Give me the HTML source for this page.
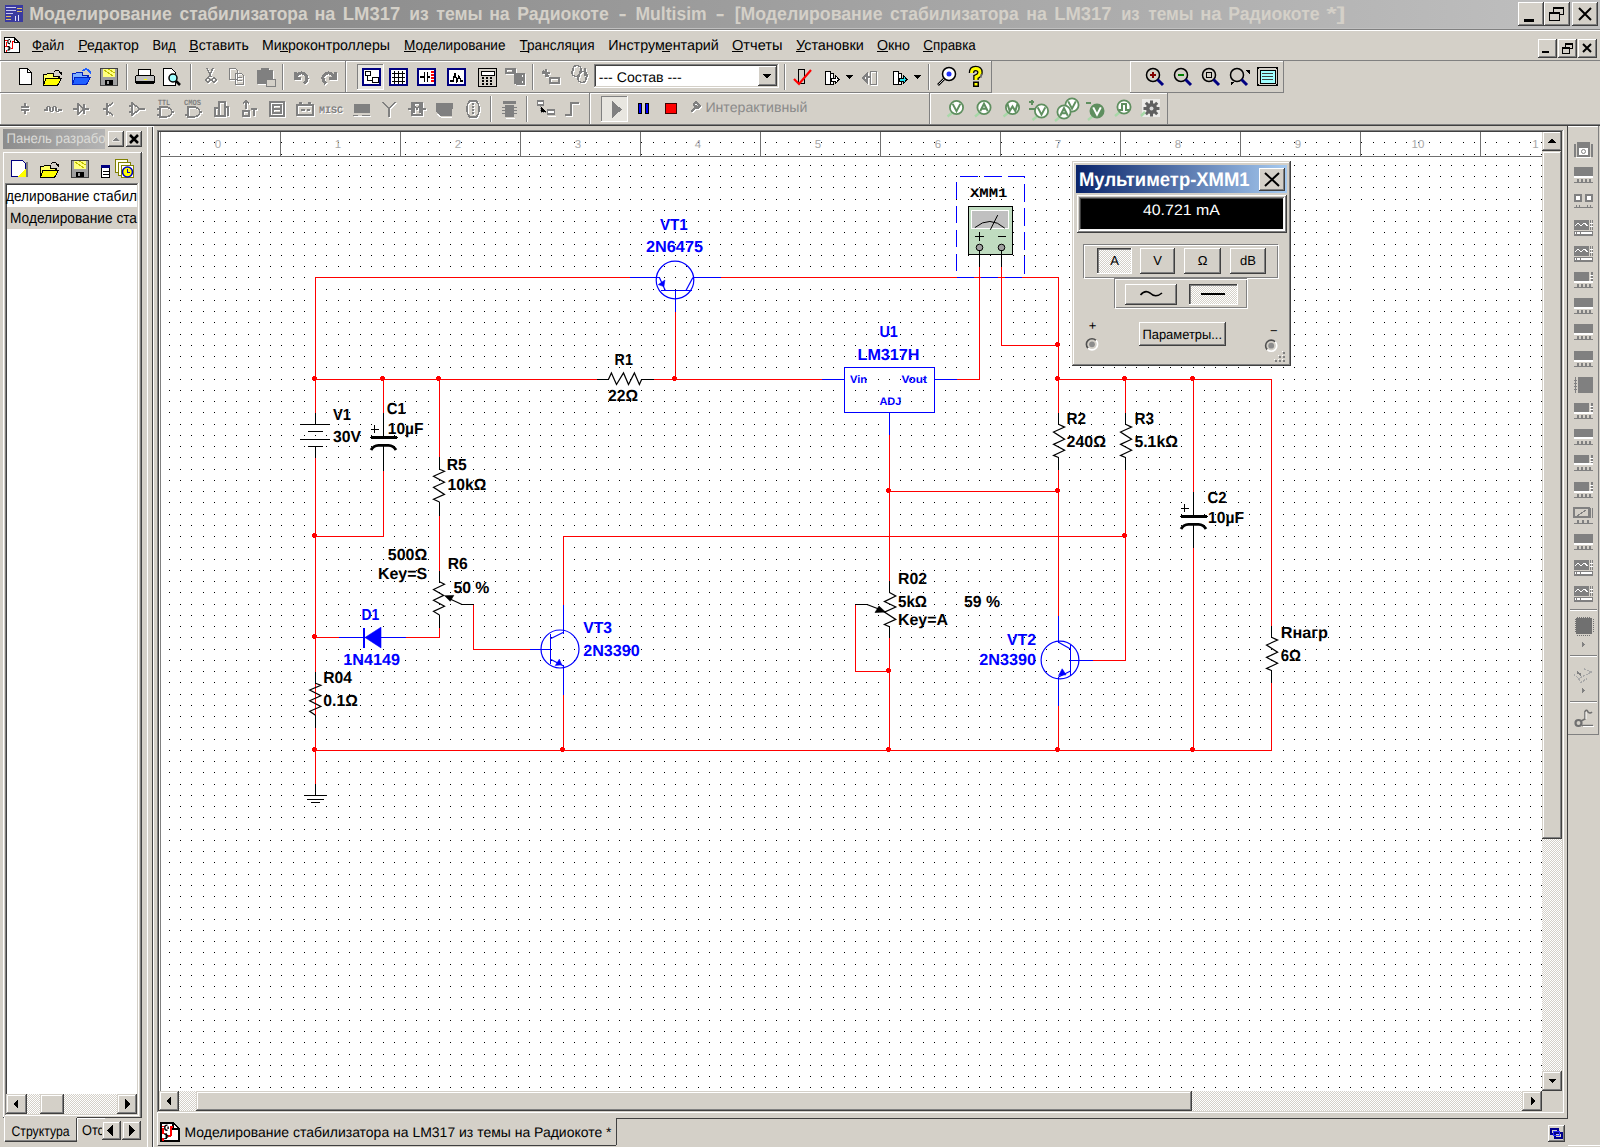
<!DOCTYPE html>
<html><head><meta charset="utf-8"><title>Multisim</title>
<style>html,body{margin:0;padding:0;width:1600px;height:1147px;overflow:hidden;background:#d4d0c8}svg{display:block}text{white-space:pre;text-rendering:geometricPrecision}</style>
</head><body>
<svg width="1600" height="1147" viewBox="0 0 1600 1147" shape-rendering="crispEdges">
<defs>
<pattern id="grid" x="169" y="142" width="45" height="45" patternUnits="userSpaceOnUse">
<rect x="0" y="0" width="1" height="1" fill="#000"/><rect x="0" y="12" width="1" height="1" fill="#000"/><rect x="0" y="23" width="1" height="1" fill="#000"/><rect x="0" y="34" width="1" height="1" fill="#000"/><rect x="11" y="0" width="1" height="1" fill="#000"/><rect x="11" y="12" width="1" height="1" fill="#000"/><rect x="11" y="23" width="1" height="1" fill="#000"/><rect x="11" y="34" width="1" height="1" fill="#000"/><rect x="22" y="0" width="1" height="1" fill="#000"/><rect x="22" y="12" width="1" height="1" fill="#000"/><rect x="22" y="23" width="1" height="1" fill="#000"/><rect x="22" y="34" width="1" height="1" fill="#000"/><rect x="34" y="0" width="1" height="1" fill="#000"/><rect x="34" y="12" width="1" height="1" fill="#000"/><rect x="34" y="23" width="1" height="1" fill="#000"/><rect x="34" y="34" width="1" height="1" fill="#000"/>
</pattern>
<pattern id="chk" x="0" y="0" width="2" height="2" patternUnits="userSpaceOnUse">
<rect width="2" height="2" fill="#d4d0c8"/><rect width="1" height="1" fill="#ffffff"/><rect x="1" y="1" width="1" height="1" fill="#ffffff"/>
</pattern>
<linearGradient id="tgrad" x1="0" x2="1" y1="0" y2="0"><stop offset="0" stop-color="#808080"/><stop offset="1" stop-color="#c0c0c0"/></linearGradient>
<linearGradient id="pgrad" x1="0" x2="1" y1="0" y2="0"><stop offset="0" stop-color="#8c8c8c"/><stop offset="1" stop-color="#b4b4b4"/></linearGradient>
<linearGradient id="agrad" x1="0" x2="1" y1="0" y2="0"><stop offset="0" stop-color="#0a246a"/><stop offset="1" stop-color="#a6caf0"/></linearGradient>
</defs>
<rect x="0" y="0" width="1600" height="1147" fill="#d4d0c8" />
<rect x="0" y="0" width="1600" height="28" fill="url(#tgrad)" />
<g><rect x="5" y="5" width="18" height="17" fill="#3a3aa0"/><rect x="6" y="7" width="10" height="1" fill="#c8c8f0"/><rect x="6" y="10" width="10" height="1" fill="#c8c8f0"/><rect x="6" y="13" width="7" height="1" fill="#c8c8f0"/><rect x="6" y="16" width="5" height="1" fill="#e0c060"/><rect x="6" y="19" width="5" height="1" fill="#e0c060"/><rect x="17" y="8" width="5" height="1" fill="#e0c060"/><rect x="17" y="11" width="5" height="1" fill="#e0c060"/><rect x="15" y="16" width="1" height="5" fill="#e0e0ff"/><rect x="18" y="15" width="1" height="6" fill="#e0e0ff"/></g>
<text x="29.2" y="20.3" font-family='"Liberation Sans", sans-serif' font-size="18.8" font-weight="bold" fill="#d4d0c8" text-anchor="start" textLength="142.7" lengthAdjust="spacingAndGlyphs" >Моделирование</text>
<text x="179.5" y="20.3" font-family='"Liberation Sans", sans-serif' font-size="18.8" font-weight="bold" fill="#d4d0c8" text-anchor="start" textLength="128.1" lengthAdjust="spacingAndGlyphs" >стабилизатора</text>
<text x="314.4" y="20.3" font-family='"Liberation Sans", sans-serif' font-size="18.8" font-weight="bold" fill="#d4d0c8" text-anchor="start" textLength="20.9" lengthAdjust="spacingAndGlyphs" >на</text>
<text x="342.8" y="20.3" font-family='"Liberation Sans", sans-serif' font-size="18.8" font-weight="bold" fill="#d4d0c8" text-anchor="start" textLength="57.5" lengthAdjust="spacingAndGlyphs" >LM317</text>
<text x="409.3" y="20.3" font-family='"Liberation Sans", sans-serif' font-size="18.8" font-weight="bold" fill="#d4d0c8" text-anchor="start" textLength="19.4" lengthAdjust="spacingAndGlyphs" >из</text>
<text x="436.3" y="20.3" font-family='"Liberation Sans", sans-serif' font-size="18.8" font-weight="bold" fill="#d4d0c8" text-anchor="start" textLength="46.4" lengthAdjust="spacingAndGlyphs" >темы</text>
<text x="489.2" y="20.3" font-family='"Liberation Sans", sans-serif' font-size="18.8" font-weight="bold" fill="#d4d0c8" text-anchor="start" textLength="20.5" lengthAdjust="spacingAndGlyphs" >на</text>
<text x="517.3" y="20.3" font-family='"Liberation Sans", sans-serif' font-size="18.8" font-weight="bold" fill="#d4d0c8" text-anchor="start" textLength="91.4" lengthAdjust="spacingAndGlyphs" >Радиокоте</text>
<text x="618.6" y="20.3" font-family='"Liberation Sans", sans-serif' font-size="18.8" font-weight="bold" fill="#d4d0c8" text-anchor="start" textLength="8.1" lengthAdjust="spacingAndGlyphs" >-</text>
<text x="635.5" y="20.3" font-family='"Liberation Sans", sans-serif' font-size="18.8" font-weight="bold" fill="#d4d0c8" text-anchor="start" textLength="71.1" lengthAdjust="spacingAndGlyphs" >Multisim</text>
<text x="715.4" y="20.3" font-family='"Liberation Sans", sans-serif' font-size="18.8" font-weight="bold" fill="#d4d0c8" text-anchor="start" textLength="9.2" lengthAdjust="spacingAndGlyphs" >-</text>
<text x="734.7" y="20.3" font-family='"Liberation Sans", sans-serif' font-size="18.8" font-weight="bold" fill="#d4d0c8" text-anchor="start" textLength="147.8" lengthAdjust="spacingAndGlyphs" >[Моделирование</text>
<text x="890.1" y="20.3" font-family='"Liberation Sans", sans-serif' font-size="18.8" font-weight="bold" fill="#d4d0c8" text-anchor="start" textLength="128.5" lengthAdjust="spacingAndGlyphs" >стабилизатора</text>
<text x="1026.2" y="20.3" font-family='"Liberation Sans", sans-serif' font-size="18.8" font-weight="bold" fill="#d4d0c8" text-anchor="start" textLength="20.6" lengthAdjust="spacingAndGlyphs" >на</text>
<text x="1054.2" y="20.3" font-family='"Liberation Sans", sans-serif' font-size="18.8" font-weight="bold" fill="#d4d0c8" text-anchor="start" textLength="57.4" lengthAdjust="spacingAndGlyphs" >LM317</text>
<text x="1121.2" y="20.3" font-family='"Liberation Sans", sans-serif' font-size="18.8" font-weight="bold" fill="#d4d0c8" text-anchor="start" textLength="18.4" lengthAdjust="spacingAndGlyphs" >из</text>
<text x="1148.2" y="20.3" font-family='"Liberation Sans", sans-serif' font-size="18.8" font-weight="bold" fill="#d4d0c8" text-anchor="start" textLength="45.4" lengthAdjust="spacingAndGlyphs" >темы</text>
<text x="1200.2" y="20.3" font-family='"Liberation Sans", sans-serif' font-size="18.8" font-weight="bold" fill="#d4d0c8" text-anchor="start" textLength="21.4" lengthAdjust="spacingAndGlyphs" >на</text>
<text x="1228.2" y="20.3" font-family='"Liberation Sans", sans-serif' font-size="18.8" font-weight="bold" fill="#d4d0c8" text-anchor="start" textLength="91.4" lengthAdjust="spacingAndGlyphs" >Радиокоте</text>
<text x="1326.2" y="20.3" font-family='"Liberation Sans", sans-serif' font-size="18.8" font-weight="bold" fill="#d4d0c8" text-anchor="start" textLength="19.4" lengthAdjust="spacingAndGlyphs" >*]</text>
<rect x="1518" y="2" width="26" height="24" fill="#d4d0c8" />
<rect x="1518" y="2" width="26" height="1" fill="#ffffff" />
<rect x="1518" y="2" width="1" height="24" fill="#ffffff" />
<rect x="1518" y="25" width="26" height="1" fill="#404040" />
<rect x="1543" y="2" width="1" height="24" fill="#404040" />
<rect x="1519" y="24" width="24" height="1" fill="#808080" />
<rect x="1542" y="3" width="1" height="22" fill="#808080" />
<rect x="1524" y="19" width="10" height="3" fill="#000000" />
<rect x="1544" y="2" width="26" height="24" fill="#d4d0c8" />
<rect x="1544" y="2" width="26" height="1" fill="#ffffff" />
<rect x="1544" y="2" width="1" height="24" fill="#ffffff" />
<rect x="1544" y="25" width="26" height="1" fill="#404040" />
<rect x="1569" y="2" width="1" height="24" fill="#404040" />
<rect x="1545" y="24" width="24" height="1" fill="#808080" />
<rect x="1568" y="3" width="1" height="22" fill="#808080" />
<rect x="1553.5" y="7.5" width="10" height="7" fill="none" stroke="#000"/>
<rect x="1553" y="7" width="11" height="2" fill="#000000" />
<rect x="1549.5" y="12.5" width="10" height="8" fill="#d4d0c8" stroke="#000"/>
<rect x="1549" y="12" width="11" height="2" fill="#000000" />
<rect x="1572" y="2" width="26" height="24" fill="#d4d0c8" />
<rect x="1572" y="2" width="26" height="1" fill="#ffffff" />
<rect x="1572" y="2" width="1" height="24" fill="#ffffff" />
<rect x="1572" y="25" width="26" height="1" fill="#404040" />
<rect x="1597" y="2" width="1" height="24" fill="#404040" />
<rect x="1573" y="24" width="24" height="1" fill="#808080" />
<rect x="1596" y="3" width="1" height="22" fill="#808080" />
<path d="M1579 8 L1591 20 M1591 8 L1579 20" stroke="#000" stroke-width="2" shape-rendering="auto"/>
<rect x="0" y="28" width="1600" height="1" fill="#c0c0c0" />
<rect x="0" y="29" width="1600" height="1" fill="#808080" />
<rect x="0" y="30" width="1600" height="1" fill="#ffffff" />
<rect x="0" y="30" width="1" height="30" fill="#ffffff" />
<g transform="translate(4,37) scale(1)"><path d="M0.7 0.7 H10.6 L15.4 5.5 V15.3 H0.7 Z" fill="#fff" stroke="#000" stroke-width="1.4"/><path d="M10.6 0.7 V5.5 H15.4" fill="none" stroke="#000" stroke-width="1.4"/><rect x="1.3" y="2.8" width="2.5" height="1.3" fill="#f00"/><rect x="1.8" y="5" width="1.3" height="4.8" fill="#f00"/><rect x="1.3" y="8.6" width="2.5" height="1.3" fill="#f00"/><rect x="7.9" y="3.5" width="1.3" height="8" fill="#f00"/><rect x="7.9" y="3.5" width="2.5" height="1.3" fill="#f00"/><rect x="6.5" y="10.5" width="2.5" height="1.3" fill="#f00"/><rect x="1.8" y="12.8" width="1.3" height="2.2" fill="#f00"/><path d="M5.6 2.5 Q3.8 2.5 3.8 4.5 Q3.8 6.6 5.6 6.6 M5.2 2.5 H6 M5.2 6.6 H6 M6.5 3.5 V5.6" fill="none" stroke="#000" stroke-width="1.1" shape-rendering="auto"/><path d="M3.5 9.5 L6.5 11 M5 9 V13.5 M3.5 13.5 L6.5 11.5" fill="none" stroke="#000" stroke-width="1.1" shape-rendering="auto"/></g>
<text x="32" y="50" font-family='"Liberation Sans", sans-serif' font-size="14.5" font-weight="normal" fill="#000" text-anchor="start" textLength="32.2" lengthAdjust="spacingAndGlyphs" >Файл</text>
<text x="78.3" y="50" font-family='"Liberation Sans", sans-serif' font-size="14.5" font-weight="normal" fill="#000" text-anchor="start" textLength="60.5" lengthAdjust="spacingAndGlyphs" >Редактор</text>
<text x="152.5" y="50" font-family='"Liberation Sans", sans-serif' font-size="14.5" font-weight="normal" fill="#000" text-anchor="start" textLength="23.3" lengthAdjust="spacingAndGlyphs" >Вид</text>
<text x="189.3" y="50" font-family='"Liberation Sans", sans-serif' font-size="14.5" font-weight="normal" fill="#000" text-anchor="start" textLength="59.5" lengthAdjust="spacingAndGlyphs" >Вставить</text>
<text x="262" y="50" font-family='"Liberation Sans", sans-serif' font-size="14.5" font-weight="normal" fill="#000" text-anchor="start" textLength="128" lengthAdjust="spacingAndGlyphs" >Микроконтроллеры</text>
<text x="404" y="50" font-family='"Liberation Sans", sans-serif' font-size="14.5" font-weight="normal" fill="#000" text-anchor="start" textLength="101.5" lengthAdjust="spacingAndGlyphs" >Моделирование</text>
<text x="519.5" y="50" font-family='"Liberation Sans", sans-serif' font-size="14.5" font-weight="normal" fill="#000" text-anchor="start" textLength="75" lengthAdjust="spacingAndGlyphs" >Трансляция</text>
<text x="608.3" y="50" font-family='"Liberation Sans", sans-serif' font-size="14.5" font-weight="normal" fill="#000" text-anchor="start" textLength="110.5" lengthAdjust="spacingAndGlyphs" >Инструментарий</text>
<text x="732" y="50" font-family='"Liberation Sans", sans-serif' font-size="14.5" font-weight="normal" fill="#000" text-anchor="start" textLength="50.5" lengthAdjust="spacingAndGlyphs" >Отчеты</text>
<text x="796" y="50" font-family='"Liberation Sans", sans-serif' font-size="14.5" font-weight="normal" fill="#000" text-anchor="start" textLength="67.8" lengthAdjust="spacingAndGlyphs" >Установки</text>
<text x="877" y="50" font-family='"Liberation Sans", sans-serif' font-size="14.5" font-weight="normal" fill="#000" text-anchor="start" textLength="33" lengthAdjust="spacingAndGlyphs" >Окно</text>
<text x="923.3" y="50" font-family='"Liberation Sans", sans-serif' font-size="14.5" font-weight="normal" fill="#000" text-anchor="start" textLength="52.5" lengthAdjust="spacingAndGlyphs" >Справка</text>
<rect x="32" y="51" width="11" height="1" fill="#000" />
<rect x="78" y="51" width="9" height="1" fill="#000" />
<rect x="189" y="51" width="9" height="1" fill="#000" />
<rect x="280" y="51" width="8" height="1" fill="#000" />
<rect x="404" y="51" width="12" height="1" fill="#000" />
<rect x="520" y="51" width="9" height="1" fill="#000" />
<rect x="662" y="51" width="8" height="1" fill="#000" />
<rect x="732" y="51" width="11" height="1" fill="#000" />
<rect x="796" y="51" width="9" height="1" fill="#000" />
<rect x="877" y="51" width="11" height="1" fill="#000" />
<rect x="923" y="51" width="10" height="1" fill="#000" />
<rect x="1538" y="39" width="19" height="19" fill="#d4d0c8" />
<rect x="1538" y="39" width="19" height="1" fill="#ffffff" />
<rect x="1538" y="39" width="1" height="19" fill="#ffffff" />
<rect x="1538" y="57" width="19" height="1" fill="#404040" />
<rect x="1556" y="39" width="1" height="19" fill="#404040" />
<rect x="1539" y="56" width="17" height="1" fill="#808080" />
<rect x="1555" y="40" width="1" height="17" fill="#808080" />
<rect x="1542" y="51" width="7" height="2" fill="#000000" />
<rect x="1558" y="39" width="19" height="19" fill="#d4d0c8" />
<rect x="1558" y="39" width="19" height="1" fill="#ffffff" />
<rect x="1558" y="39" width="1" height="19" fill="#ffffff" />
<rect x="1558" y="57" width="19" height="1" fill="#404040" />
<rect x="1576" y="39" width="1" height="19" fill="#404040" />
<rect x="1559" y="56" width="17" height="1" fill="#808080" />
<rect x="1575" y="40" width="1" height="17" fill="#808080" />
<rect x="1565.5" y="43.5" width="7" height="5" fill="none" stroke="#000"/>
<rect x="1565" y="43" width="8" height="2" fill="#000000" />
<rect x="1562.5" y="47.5" width="7" height="6" fill="#d4d0c8" stroke="#000"/>
<rect x="1562" y="47" width="8" height="2" fill="#000000" />
<rect x="1578" y="39" width="19" height="19" fill="#d4d0c8" />
<rect x="1578" y="39" width="19" height="1" fill="#ffffff" />
<rect x="1578" y="39" width="1" height="19" fill="#ffffff" />
<rect x="1578" y="57" width="19" height="1" fill="#404040" />
<rect x="1596" y="39" width="1" height="19" fill="#404040" />
<rect x="1579" y="56" width="17" height="1" fill="#808080" />
<rect x="1595" y="40" width="1" height="17" fill="#808080" />
<path d="M1583 44 L1591 52 M1591 44 L1583 52" stroke="#000" stroke-width="2" shape-rendering="auto"/>
<rect x="0" y="60" width="1600" height="1" fill="#808080" />
<rect x="0" y="124" width="1600" height="1" fill="#808080" />
<rect x="0" y="125" width="1600" height="1" fill="#404040" />
<rect x="0" y="61" width="346" height="1" fill="#ffffff" />
<rect x="0" y="61" width="1" height="32" fill="#ffffff" />
<rect x="0" y="92" width="346" height="1" fill="#808080" />
<rect x="345" y="61" width="1" height="32" fill="#808080" />
<rect x="346" y="61" width="646" height="1" fill="#ffffff" />
<rect x="346" y="61" width="1" height="32" fill="#ffffff" />
<rect x="346" y="92" width="646" height="1" fill="#808080" />
<rect x="991" y="61" width="1" height="32" fill="#808080" />
<rect x="1130" y="61" width="154" height="1" fill="#ffffff" />
<rect x="1130" y="61" width="1" height="32" fill="#ffffff" />
<rect x="1130" y="92" width="154" height="1" fill="#808080" />
<rect x="1283" y="61" width="1" height="32" fill="#808080" />
<rect x="126" y="64" width="1" height="26" fill="#808080" />
<rect x="127" y="64" width="1" height="26" fill="#ffffff" />
<rect x="190" y="64" width="1" height="26" fill="#808080" />
<rect x="191" y="64" width="1" height="26" fill="#ffffff" />
<rect x="282" y="64" width="1" height="26" fill="#808080" />
<rect x="283" y="64" width="1" height="26" fill="#ffffff" />
<rect x="532" y="64" width="1" height="26" fill="#808080" />
<rect x="533" y="64" width="1" height="26" fill="#ffffff" />
<rect x="784" y="64" width="1" height="26" fill="#808080" />
<rect x="785" y="64" width="1" height="26" fill="#ffffff" />
<rect x="928" y="64" width="1" height="26" fill="#808080" />
<rect x="929" y="64" width="1" height="26" fill="#ffffff" />
<rect x="0" y="93" width="590" height="1" fill="#ffffff" />
<rect x="0" y="93" width="1" height="32" fill="#ffffff" />
<rect x="0" y="124" width="590" height="1" fill="#808080" />
<rect x="589" y="93" width="1" height="32" fill="#808080" />
<rect x="590" y="93" width="340" height="1" fill="#ffffff" />
<rect x="590" y="93" width="1" height="32" fill="#ffffff" />
<rect x="590" y="124" width="340" height="1" fill="#808080" />
<rect x="929" y="93" width="1" height="32" fill="#808080" />
<rect x="930" y="93" width="238" height="1" fill="#ffffff" />
<rect x="930" y="93" width="1" height="32" fill="#ffffff" />
<rect x="930" y="124" width="238" height="1" fill="#808080" />
<rect x="1167" y="93" width="1" height="32" fill="#808080" />
<rect x="490" y="96" width="1" height="26" fill="#808080" />
<rect x="491" y="96" width="1" height="26" fill="#ffffff" />
<rect x="526" y="96" width="1" height="26" fill="#808080" />
<rect x="527" y="96" width="1" height="26" fill="#ffffff" />
<g transform="translate(19,68)"><path d="M0.5 0.5 H8.5 L12.5 4.5 V16.5 H0.5 Z" fill="#fff" stroke="#000"/><path d="M8.5 0.5 V4.5 H12.5" fill="none" stroke="#000"/></g>
<g transform="translate(43,69)"><path d="M0.5 5.5 H3.5 L5 4 H10 V7.5 H16.5 L12.5 16.5 H0.5 Z" fill="#ffff60" stroke="#000"/><path d="M3 9.5 H18.5 L14.5 16.5 H0.5 Z" fill="#ffff00" stroke="#000"/><path d="M11 3 Q14 -1 17 3" fill="none" stroke="#000"/><path d="M15 3 H19 V7 Z" fill="#000"/></g>
<g transform="translate(72,68)"><path d="M0.5 5.5 H3.5 L5 4 H10 V7.5 H16.5 L12.5 16.5 H0.5 Z" fill="#80b0ff" stroke="#0020c0"/><path d="M3 9.5 H18.5 L14.5 16.5 H0.5 Z" fill="#2060ff" stroke="#0020c0"/><path d="M11 3 Q14 -1 17 3" fill="none" stroke="#2060ff" stroke-width="1.5"/><path d="M15 3 H19 V7 Z" fill="#2060ff"/></g>
<g transform="translate(100,68)"><rect x="0.5" y="0.5" width="17" height="17" fill="#a0a0a0" stroke="#404040"/><rect x="3" y="1" width="12" height="8" fill="#ffff80"/><path d="M4 2 L13 8 M8 1 L15 5" stroke="#c0c000"/><rect x="5" y="12" width="8" height="5" fill="#000"/><rect x="7" y="13" width="2" height="3" fill="#a0a0a0"/></g>
<g transform="translate(135,69)"><rect x="3" y="0.5" width="12" height="6" fill="#fff" stroke="#000"/><rect x="0.5" y="6.5" width="19" height="8" rx="2" fill="#c0c0c0" stroke="#000"/><rect x="1" y="12" width="18" height="3" fill="#000"/><rect x="9" y="10" width="3" height="1" fill="#ff0"/></g>
<g transform="translate(163,68)"><path d="M0.5 0.5 H8.5 L12.5 4.5 V17.5 H0.5 Z" fill="#fff" stroke="#000"/><circle cx="10" cy="10" r="4" fill="#a0ffff" stroke="#000" stroke-width="1.5" shape-rendering="auto"/><path d="M13 13 L17 17" stroke="#000" stroke-width="2.5" shape-rendering="auto"/></g>
<g transform="translate(206,69)"><path d="M2 0 L6 9 M8 0 L4 9 M3 10 m-2 2 a2 2 0 1 0 4 0 a2 2 0 1 0 -4 0 M8 10 m-1 2 a2 2 0 1 0 4 0 a2 2 0 1 0 -4 0" fill="none" stroke="#fff" stroke-width="1.5"/></g>
<g transform="translate(205,68)"><path d="M2 0 L6 9 M8 0 L4 9 M3 10 m-2 2 a2 2 0 1 0 4 0 a2 2 0 1 0 -4 0 M8 10 m-1 2 a2 2 0 1 0 4 0 a2 2 0 1 0 -4 0" fill="none" stroke="#808080" stroke-width="1.5"/></g>
<g transform="translate(230,69)"><path d="M0.5 0.5 H6.5 L8.5 2.5 V11.5 H0.5 Z M6.5 5.5 H12.5 L14.5 7.5 V16.5 H6.5 Z M8 9.5 H13 M8 12.5 H13" fill="none" stroke="#fff" stroke-width="1.2"/></g>
<g transform="translate(229,68)"><path d="M0.5 0.5 H6.5 L8.5 2.5 V11.5 H0.5 Z M6.5 5.5 H12.5 L14.5 7.5 V16.5 H6.5 Z M8 9.5 H13 M8 12.5 H13" fill="none" stroke="#808080" stroke-width="1.2"/></g>
<g transform="translate(258,69)"><path d="M1 3 H15 V15 H1 Z M5 1 H11 V4 H5 Z" fill="#fff" stroke="#fff" stroke-width="1.5"/></g>
<g transform="translate(257,68)"><path d="M1 3 H15 V15 H1 Z M5 1 H11 V4 H5 Z" fill="#808080" stroke="#808080" stroke-width="1.5"/></g>
<rect x="266" y="79" width="9" height="7" fill="#d4d0c8" stroke="#808080"/>
<g transform="translate(293,69)"><path d="M3 4 L3 10 L9 10 M3 9 Q9 2 14 7 Q17 11 12 16" fill="none" stroke="#fff" stroke-width="3"/></g>
<g transform="translate(292,68)"><path d="M3 4 L3 10 L9 10 M3 9 Q9 2 14 7 Q17 11 12 16" fill="none" stroke="#808080" stroke-width="3"/></g>
<g transform="translate(321,69)"><path d="M15 4 L15 10 L9 10 M15 9 Q9 2 4 7 Q1 11 6 16" fill="none" stroke="#fff" stroke-width="3"/></g>
<g transform="translate(320,68)"><path d="M15 4 L15 10 L9 10 M15 9 Q9 2 4 7 Q1 11 6 16" fill="none" stroke="#808080" stroke-width="3"/></g>
<rect x="357" y="64" width="27" height="26" fill="#e8e6e0" />
<rect x="357" y="64" width="27" height="1" fill="#808080" />
<rect x="357" y="64" width="1" height="26" fill="#808080" />
<rect x="357" y="89" width="27" height="1" fill="#ffffff" />
<rect x="383" y="64" width="1" height="26" fill="#ffffff" />
<g transform="translate(362,68)"><rect x="0" y="0" width="19" height="18" fill="#000080"/><rect x="2" y="2" width="15" height="14" fill="#fff"/><rect x="3" y="3" width="5" height="4" fill="none" stroke="#000"/><path d="M5.5 7 V12 H10" stroke="#000" fill="none"/><rect x="10" y="9" width="6" height="5" fill="none" stroke="#000"/></g>
<g transform="translate(389,68)"><rect x="0" y="0" width="19" height="18" fill="#000080"/><rect x="2" y="2" width="15" height="14" fill="#fff"/><path d="M3 5.5 H16 M3 9.5 H16 M3 13.5 H16 M5.5 3 V16 M9.5 3 V16 M13.5 3 V16" stroke="#000" stroke-width="1.3"/></g>
<g transform="translate(417,68)"><rect x="0" y="0" width="19" height="18" fill="#000080"/><rect x="2" y="2" width="15" height="14" fill="#fff"/><path d="M3 9 H7 M7.5 4 V14 M10.5 4 V14 M11 9 H13" stroke="#000" stroke-width="1.5"/><path d="M14 4 H17 M14 7 H17 M14 10 H17 M14 13 H17" stroke="#f00" stroke-width="1.5"/></g>
<g transform="translate(447,68)"><rect x="0" y="0" width="19" height="18" fill="#000080"/><rect x="2" y="2" width="15" height="14" fill="#fff"/><path d="M3 13 H6 L8 5 L10 14 L12 8 L14 13 H16" stroke="#000" fill="none" stroke-width="1.3"/></g>
<g transform="translate(478,68)"><rect x="0.5" y="0.5" width="18" height="18" fill="#d4d0c8" stroke="#000" stroke-width="1.5"/><rect x="3" y="3" width="13" height="4" fill="#fff" stroke="#000"/><path d="M4 10 H6 M8 10 H10 M12 10 H14 M4 13 H6 M8 13 H10 M12 13 H14 M4 16 H6 M8 16 H10 M12 16 H14" stroke="#000" stroke-width="1.5"/></g>
<g transform="translate(507,69)"><path d="M0 1 H7 V5 H0 Z M9 0 V16 M9 8 H16 M9 14 H16 M11 6 H18 V10 H11 Z M11 12 H18 V16 H11 Z" fill="none" stroke="#fff" stroke-width="1.5"/></g>
<g transform="translate(506,68)"><path d="M0 1 H7 V5 H0 Z M9 0 V16 M9 8 H16 M9 14 H16 M11 6 H18 V10 H11 Z M11 12 H18 V16 H11 Z" fill="none" stroke="#808080" stroke-width="1.5"/></g>
<g transform="translate(543,70)"><path d="M1 2 L7 8 M4 0 V8 M0 4 H8 M8 9 H17 V14 H8 Z" fill="none" stroke="#fff" stroke-width="1.8"/></g>
<g transform="translate(542,69)"><path d="M1 2 L7 8 M4 0 V8 M0 4 H8 M8 9 H17 V14 H8 Z" fill="none" stroke="#808080" stroke-width="1.8"/></g>
<g transform="translate(572,69)"><path d="M2 2 A4 4 0 1 1 9 4 A4 4 0 1 1 2 2 M8 8 A4 4 0 1 1 15 10 A4 4 0 1 1 8 8 M14 0 V8" fill="none" stroke="#fff" stroke-width="1.5"/></g>
<g transform="translate(571,68)"><path d="M2 2 A4 4 0 1 1 9 4 A4 4 0 1 1 2 2 M8 8 A4 4 0 1 1 15 10 A4 4 0 1 1 8 8 M14 0 V8" fill="none" stroke="#808080" stroke-width="1.5"/></g>
<rect x="594" y="64" width="185" height="24" fill="#ffffff" />
<rect x="594" y="64" width="185" height="1" fill="#808080" />
<rect x="594" y="64" width="1" height="24" fill="#808080" />
<rect x="595" y="65" width="183" height="1" fill="#404040" />
<rect x="595" y="65" width="1" height="22" fill="#404040" />
<rect x="594" y="87" width="185" height="1" fill="#ffffff" />
<rect x="778" y="64" width="1" height="24" fill="#ffffff" />
<rect x="595" y="86" width="183" height="1" fill="#d4d0c8" />
<rect x="777" y="65" width="1" height="22" fill="#d4d0c8" />
<text x="598.7" y="82" font-family='"Liberation Sans", sans-serif' font-size="14" font-weight="normal" fill="#000" text-anchor="start" textLength="83" lengthAdjust="spacingAndGlyphs" >--- Состав ---</text>
<rect x="758" y="66" width="19" height="20" fill="#d4d0c8" />
<rect x="758" y="66" width="19" height="1" fill="#ffffff" />
<rect x="758" y="66" width="1" height="20" fill="#ffffff" />
<rect x="758" y="85" width="19" height="1" fill="#404040" />
<rect x="776" y="66" width="1" height="20" fill="#404040" />
<rect x="759" y="84" width="17" height="1" fill="#808080" />
<rect x="775" y="67" width="1" height="18" fill="#808080" />
<path d="M763 74 L771 74 L767 79 Z" fill="#000"/>
<g transform="translate(794,69)"><path d="M4.5 0.5 H10.5 V14.5 H4.5 Z" fill="none" stroke="#000" stroke-width="1.3"/><path d="M0 10 L5 15 L17 1" stroke="#f00" stroke-width="2.2" fill="none" shape-rendering="auto"/></g>
<g transform="translate(825,71)"><path d="M0.5 0.5 H5.5 V13.5 H0.5 Z M5.5 2.5 H8.5 V13.5 H5.5" fill="#fff" stroke="#000" stroke-width="1.3"/><path d="M6 7 H10 V4 L14 8.5 L10 13 V10 H6 Z" fill="#fff" stroke="#000"/></g>
<path d="M846 75 L853 75 L849.5 79 Z" fill="#000"/>
<g transform="translate(864,72)"><path d="M7.5 0.5 H13.5 V13.5 H7.5 Z M4 6 H8 M0 7 L4 3 V11 Z" fill="none" stroke="#fff" stroke-width="1.6"/></g>
<g transform="translate(863,71)"><path d="M7.5 0.5 H13.5 V13.5 H7.5 Z M4 6 H8 M0 7 L4 3 V11 Z" fill="none" stroke="#808080" stroke-width="1.6"/></g>
<g transform="translate(893,71)"><path d="M0.5 0.5 H5.5 V13.5 H0.5 Z M5.5 2.5 H8.5 V13.5 H5.5" fill="#fff" stroke="#000" stroke-width="1.3"/><path d="M6 7 H10 V4 L14 8.5 L10 13 V10 H6 Z" fill="#20e0f0" stroke="#000"/></g>
<path d="M914 75 L921 75 L917.5 79 Z" fill="#000"/>
<g transform="translate(937,67)"><circle cx="12" cy="7" r="6.5" fill="#fff" stroke="#000" stroke-width="1.5" shape-rendering="auto"/><circle cx="12" cy="7" r="2.5" fill="#2030ff" shape-rendering="auto"/><path d="M7 12 L1 18" stroke="#000" stroke-width="2.5" shape-rendering="auto"/><path d="M7 12 L1.5 17.5" stroke="#fff" stroke-width="0.8" shape-rendering="auto"/></g>
<g shape-rendering="auto"><path d="M971.5 73 Q971.5 68.5 975.5 68.5 Q980 68.5 980 72.5 Q980 75.5 976 77 V80" fill="none" stroke="#000" stroke-width="5.5"/><rect x="973" y="81.5" width="6" height="5.5" fill="#000"/><path d="M971.5 73 Q971.5 68.5 975.5 68.5 Q980 68.5 980 72.5 Q980 75.5 976 77 V80" fill="none" stroke="#ffff00" stroke-width="3"/><rect x="974.5" y="83" width="3" height="2.5" fill="#ffff00"/><path d="M981 74 V78" stroke="#808080" stroke-width="1.5"/></g>
<g transform="translate(1146,68)"><circle cx="7" cy="7" r="6.5" fill="#d4d0c8" stroke="#000" stroke-width="1.5" shape-rendering="auto"/><path d="M4 7 H10 M7 4 V10" stroke="#800000" stroke-width="2.5"/><path d="M11.5 11.5 L17 17" stroke="#000080" stroke-width="3" shape-rendering="auto"/></g>
<g transform="translate(1174,68)"><circle cx="7" cy="7" r="6.5" fill="#d4d0c8" stroke="#000" stroke-width="1.5" shape-rendering="auto"/><path d="M4 7 H10" stroke="#008000" stroke-width="2.5"/><path d="M11.5 11.5 L17 17" stroke="#000080" stroke-width="3" shape-rendering="auto"/></g>
<g transform="translate(1202,68)"><circle cx="7" cy="7" r="6.5" fill="#d4d0c8" stroke="#000" stroke-width="1.5" shape-rendering="auto"/><rect x="4.5" y="4.5" width="5" height="5" fill="none" stroke="#000"/><path d="M11.5 11.5 L17 17" stroke="#000080" stroke-width="3" shape-rendering="auto"/></g>
<g transform="translate(1230,68)"><circle cx="7" cy="7" r="6.5" fill="#d4d0c8" stroke="#000" stroke-width="1.5" shape-rendering="auto"/><path d="M11.5 11.5 L17 17" stroke="#000080" stroke-width="3" shape-rendering="auto"/></g>
<path d="M1246 70 H1249 V73 Z M1231 85 V82 H1234" fill="#000" stroke="#000"/>
<g transform="translate(1257,67)"><rect x="0.5" y="0.5" width="20" height="18" rx="2" fill="#d4d0c8" stroke="#000" stroke-width="1.5"/><rect x="3" y="3" width="15" height="13" fill="#a0ffff" stroke="#000"/><path d="M5 6.5 H16 M5 9.5 H16 M5 12.5 H16" stroke="#404040"/></g>
<g transform="translate(26,110)"><path d="M-4 -2 H4 M-4 1 H4 M0 -6 V-2 M0 1 V5" fill="none" stroke="#fff" stroke-width="1.6"/></g>
<g transform="translate(25,109)"><path d="M-4 -2 H4 M-4 1 H4 M0 -6 V-2 M0 1 V5" fill="none" stroke="#808080" stroke-width="1.6"/></g>
<g transform="translate(54,110)"><path d="M-9 1 H-6 V-1 Q-4.5 -4 -3 -1 V1 Q-1.5 4 0 1 V-1 Q1.5 -4 3 -1 V1 Q4.5 4 6 1 H9" fill="none" stroke="#fff" stroke-width="1.6"/></g>
<g transform="translate(53,109)"><path d="M-9 1 H-6 V-1 Q-4.5 -4 -3 -1 V1 Q-1.5 4 0 1 V-1 Q1.5 -4 3 -1 V1 Q4.5 4 6 1 H9" fill="none" stroke="#808080" stroke-width="1.6"/></g>
<g transform="translate(82,110)"><path d="M-8 0 H-3 M-3 -5 V5 L3 0 Z M3 -5 V5 M3 0 H8" fill="none" stroke="#fff" stroke-width="1.6"/></g>
<g transform="translate(81,109)"><path d="M-8 0 H-3 M-3 -5 V5 L3 0 Z M3 -5 V5 M3 0 H8" fill="none" stroke="#808080" stroke-width="1.6"/></g>
<g transform="translate(110,110)"><path d="M-6 0 H-2 M-2 -6 V6 M-2 -2 L4 -6 M-2 2 L4 6" fill="none" stroke="#fff" stroke-width="1.6"/></g>
<g transform="translate(109,109)"><path d="M-6 0 H-2 M-2 -6 V6 M-2 -2 L4 -6 M-2 2 L4 6" fill="none" stroke="#808080" stroke-width="1.6"/></g>
<g transform="translate(138,110)"><path d="M-8 -3 H-5 M-8 3 H-5 M-5 -6 V6 L3 0 Z M3 0 H8" fill="none" stroke="#fff" stroke-width="1.6"/></g>
<g transform="translate(137,109)"><path d="M-8 -3 H-5 M-8 3 H-5 M-5 -6 V6 L3 0 Z M3 0 H8" fill="none" stroke="#808080" stroke-width="1.6"/></g>
<g transform="translate(166,110)"><path d="M-5 -2 H0 Q6 -2 7 3 Q6 8 0 8 H-5 Z M-8 0 H-5 M-8 6 H-5 M7 3 H9" fill="none" stroke="#fff" stroke-width="1.6"/></g>
<g transform="translate(165,109)"><path d="M-5 -2 H0 Q6 -2 7 3 Q6 8 0 8 H-5 Z M-8 0 H-5 M-8 6 H-5 M7 3 H9" fill="none" stroke="#808080" stroke-width="1.6"/></g>
<g transform="translate(194,110)"><path d="M-5 -2 H0 Q6 -2 7 3 Q6 8 0 8 H-5 Z M-8 6 H-5 M7 3 H9" fill="none" stroke="#fff" stroke-width="1.6"/></g>
<g transform="translate(193,109)"><path d="M-5 -2 H0 Q6 -2 7 3 Q6 8 0 8 H-5 Z M-8 6 H-5 M7 3 H9" fill="none" stroke="#808080" stroke-width="1.6"/></g>
<g transform="translate(222,110)"><path d="M-6 -1 H-2 V7 H-6 Z M-2 -7 H4 V7 H-2 Z M4 -2 H7 V7" fill="none" stroke="#fff" stroke-width="1.6"/></g>
<g transform="translate(221,109)"><path d="M-6 -1 H-2 V7 H-6 Z M-2 -7 H4 V7 H-2 Z M4 -2 H7 V7" fill="none" stroke="#808080" stroke-width="1.6"/></g>
<g transform="translate(250,110)"><path d="M-6 -6 L-3 -8 L0 -6 M-3 -8 V0 M-6 2 H0 V7 H-6 Z M2 0 H8 M5 0 V7" fill="none" stroke="#fff" stroke-width="1.6"/></g>
<g transform="translate(249,109)"><path d="M-6 -6 L-3 -8 L0 -6 M-3 -8 V0 M-6 2 H0 V7 H-6 Z M2 0 H8 M5 0 V7" fill="none" stroke="#808080" stroke-width="1.6"/></g>
<g transform="translate(278,110)"><path d="M-7 -7 H7 V7 H-7 Z M-4 -4 H4 V4 H-4 Z M-4 0 H4" fill="none" stroke="#fff" stroke-width="1.6"/></g>
<g transform="translate(277,109)"><path d="M-7 -7 H7 V7 H-7 Z M-4 -4 H4 V4 H-4 Z M-4 0 H4" fill="none" stroke="#808080" stroke-width="1.6"/></g>
<g transform="translate(306,110)"><path d="M-8 -4 H8 V6 H-8 Z M-6 -6 H-3 M3 -6 H6 M-4 1 H0 M2 1 H5" fill="none" stroke="#fff" stroke-width="1.6"/></g>
<g transform="translate(305,109)"><path d="M-8 -4 H8 V6 H-8 Z M-6 -6 H-3 M3 -6 H6 M-4 1 H0 M2 1 H5" fill="none" stroke="#808080" stroke-width="1.6"/></g>
<g transform="translate(390,110)"><path d="M-6 -7 L0 0 L6 -7 M0 0 V8" fill="none" stroke="#fff" stroke-width="1.6"/></g>
<g transform="translate(389,109)"><path d="M-6 -7 L0 0 L6 -7 M0 0 V8" fill="none" stroke="#808080" stroke-width="1.6"/></g>
<g transform="translate(418,110)"><path d="M-9 0 H-5 M5 0 H9 M-5 -6 H5 V6 H-5 Z M-3 4 V-4 L0 0 L3 -4 V4" fill="none" stroke="#fff" stroke-width="1.6"/></g>
<g transform="translate(417,109)"><path d="M-9 0 H-5 M5 0 H9 M-5 -6 H5 V6 H-5 Z M-3 4 V-4 L0 0 L3 -4 V4" fill="none" stroke="#808080" stroke-width="1.6"/></g>
<g transform="translate(474,110)"><path d="M-3 -8 H3 Q6 -6 6 0 Q6 6 3 8 H-3 Q-6 6 -6 0 Q-6 -6 -3 -8 Z M-1 -5 H1 M-1 -2 H1 M-1 1 H1 M-1 4 H1" fill="none" stroke="#fff" stroke-width="1.6"/></g>
<g transform="translate(473,109)"><path d="M-3 -8 H3 Q6 -6 6 0 Q6 6 3 8 H-3 Q-6 6 -6 0 Q-6 -6 -3 -8 Z M-1 -5 H1 M-1 -2 H1 M-1 1 H1 M-1 4 H1" fill="none" stroke="#808080" stroke-width="1.6"/></g>
<g transform="translate(574,110)"><path d="M-8 6 H-2 V-6 H6" fill="none" stroke="#fff" stroke-width="1.6"/></g>
<g transform="translate(573,109)"><path d="M-8 6 H-2 V-6 H6" fill="none" stroke="#808080" stroke-width="1.6"/></g>
<rect x="354" y="104" width="16" height="9" fill="#808080"/><path d="M353 115.5 H358 M362 115.5 H370" stroke="#808080"/><path d="M354 116.5 H371" stroke="#fff"/>
<rect x="503" y="101" width="13" height="3" fill="#808080"/><rect x="505" y="105" width="9" height="12" fill="#808080"/><path d="M502 107.5 H505 M502 110.5 H505 M502 113.5 H505 M514 107.5 H517 M514 110.5 H517 M514 113.5 H517" stroke="#808080"/><path d="M506 118.5 H515" stroke="#fff"/>
<rect x="537" y="100" width="7" height="6" fill="#808080"/><rect x="538" y="102" width="5" height="2" fill="#fff"/><rect x="547" y="109" width="8" height="6" fill="#808080"/><rect x="548" y="111" width="6" height="2" fill="#fff"/><path d="M540.5 106 V112 H547" stroke="#808080" stroke-dasharray="1 1"/><path d="M548 116.5 H556" stroke="#fff"/>
<text x="158" y="105" font-family='"Liberation Mono"' font-weight="bold" font-size="8" fill="#808080" textLength="12" lengthAdjust="spacingAndGlyphs">TTL</text>
<text x="184" y="105" font-family='"Liberation Mono"' font-weight="bold" font-size="8" fill="#808080" textLength="17" lengthAdjust="spacingAndGlyphs">CMOS</text>
<text x="320" y="114" font-family='"Liberation Mono"' font-weight="bold" font-size="10" fill="#fff" textLength="24" lengthAdjust="spacingAndGlyphs">MISC</text>
<text x="319" y="113" font-family='"Liberation Mono"' font-weight="bold" font-size="10" fill="#808080" textLength="24" lengthAdjust="spacingAndGlyphs">MISC</text>
<path d="M436 103 H453 L452 116 H440 L436 112 Z" fill="#808080"/><path d="M437 114 L441 117 H452" stroke="#fff" fill="none"/>
<rect x="601" y="96" width="27" height="26" fill="#e8e6e0" />
<rect x="601" y="96" width="27" height="1" fill="#808080" />
<rect x="601" y="96" width="1" height="26" fill="#808080" />
<rect x="601" y="121" width="27" height="1" fill="#ffffff" />
<rect x="627" y="96" width="1" height="26" fill="#ffffff" />
<path d="M612 101 L622 109.5 L612 118 Z" fill="#808080"/>
<rect x="638.5" y="103.5" width="3" height="10" fill="#0000ff" stroke="#000"/><rect x="645.5" y="103.5" width="3" height="10" fill="#0000ff" stroke="#000"/>
<rect x="665.5" y="103.5" width="11" height="10" fill="#ff0000" stroke="#400000"/>
<g transform="translate(690,101)"><path d="M2 12 L8 6 M7 2 A3 3 0 1 0 11 6 L9 4 Z" fill="none" stroke="#fff" stroke-width="2.2"/></g>
<g transform="translate(689,100)"><path d="M2 12 L8 6 M7 2 A3 3 0 1 0 11 6 L9 4 Z" fill="none" stroke="#808080" stroke-width="2.2"/></g>
<text x="705.4" y="111.5" font-family='"Liberation Sans", sans-serif' font-size="14" font-weight="normal" fill="#8a8a8a" text-anchor="start" textLength="102" lengthAdjust="spacingAndGlyphs" >Интерактивный</text>
<path d="M947.5 116.5 L952.5 112.5" stroke="#a8d8a8" stroke-width="2.5" shape-rendering="auto"/>
<circle cx="956.5" cy="107.5" r="6.6" fill="#fff" stroke="#5f8f5f" stroke-width="1.8" shape-rendering="auto"/>
<path transform="translate(956.5,107.5)" d="M-3.8 -3.6 L0 3.6 L3.8 -3.6" fill="none" stroke="#5f8f5f" stroke-width="2" shape-rendering="auto"/>
<path d="M975 116.5 L980 112.5" stroke="#a8d8a8" stroke-width="2.5" shape-rendering="auto"/>
<circle cx="984" cy="107.5" r="6.6" fill="#fff" stroke="#5f8f5f" stroke-width="1.8" shape-rendering="auto"/>
<path transform="translate(984,107.5)" d="M-3.8 3.8 L0 -3.8 L3.8 3.8 M-2.2 1.2 H2.2" fill="none" stroke="#5f8f5f" stroke-width="2" shape-rendering="auto"/>
<path d="M1003.5 116.5 L1008.5 112.5" stroke="#a8d8a8" stroke-width="2.5" shape-rendering="auto"/>
<circle cx="1012.5" cy="107.5" r="6.6" fill="#fff" stroke="#5f8f5f" stroke-width="1.8" shape-rendering="auto"/>
<path transform="translate(1012.5,107.5)" d="M-5 -3.6 L-2.8 3.6 L0 -1 L2.8 3.6 L5 -3.6" fill="none" stroke="#5f8f5f" stroke-width="2" shape-rendering="auto"/>
<path d="M1029 102 H1034 M1031.5 99.5 V104.5 M1029 109 H1035" stroke="#5f8f5f" stroke-width="2"/>
<path d="M1032.5 120 L1037.5 116" stroke="#a8d8a8" stroke-width="2.5" shape-rendering="auto"/>
<circle cx="1041.5" cy="111" r="6.6" fill="#fff" stroke="#5f8f5f" stroke-width="1.8" shape-rendering="auto"/>
<path transform="translate(1041.5,111)" d="M-3.8 -3.6 L0 3.6 L3.8 -3.6" fill="none" stroke="#5f8f5f" stroke-width="2" shape-rendering="auto"/>
<path d="M1063 114 L1068 110" stroke="#a8d8a8" stroke-width="2.5" shape-rendering="auto"/>
<circle cx="1072" cy="105" r="6.6" fill="#fff" stroke="#5f8f5f" stroke-width="1.8" shape-rendering="auto"/>
<path transform="translate(1072,105)" d="M-3.8 -3.6 L0 3.6 L3.8 -3.6" fill="none" stroke="#5f8f5f" stroke-width="2" shape-rendering="auto"/>
<path d="M1055 121 L1060 117" stroke="#a8d8a8" stroke-width="2.5" shape-rendering="auto"/>
<circle cx="1064" cy="112" r="6.6" fill="#fff" stroke="#5f8f5f" stroke-width="1.8" shape-rendering="auto"/>
<path transform="translate(1064,112)" d="M-3.8 3.8 L0 -3.8 L3.8 3.8 M-2.2 1.2 H2.2" fill="none" stroke="#5f8f5f" stroke-width="2" shape-rendering="auto"/>
<path d="M1086 103 H1091" stroke="#5f8f5f" stroke-width="2"/>
<path d="M1088 120 L1093 116" stroke="#a8d8a8" stroke-width="2.5" shape-rendering="auto"/>
<circle cx="1097" cy="111" r="6.6" fill="#5f8f5f" stroke="#5f8f5f" stroke-width="1.8" shape-rendering="auto"/>
<path transform="translate(1097,111)" d="M-3.8 -3.6 L0 3.6 L3.8 -3.6" fill="none" stroke="#fff" stroke-width="2" shape-rendering="auto"/>
<path d="M1115 116 L1120 112" stroke="#a8d8a8" stroke-width="2.5" shape-rendering="auto"/>
<circle cx="1124" cy="107" r="6.6" fill="#fff" stroke="#5f8f5f" stroke-width="1.8" shape-rendering="auto"/>
<path d="M1119 110 H1122 V104 H1126 V110 H1129" stroke="#5f8f5f" stroke-width="1.6" fill="none"/>
<rect x="1142" y="99" width="18" height="18" fill="#ecebe8"/>
<g transform="translate(1151.5,108.5)" shape-rendering="auto"><path d="M0 -8 V8 M-8 0 H8 M-5.7 -5.7 L5.7 5.7 M5.7 -5.7 L-5.7 5.7" stroke="#606060" stroke-width="3"/><circle r="5.5" fill="#606060"/><circle r="2" fill="#d8d8d8"/></g>
<path d="M1141 116 L1145 112" stroke="#a8d8a8" stroke-width="2.5" shape-rendering="auto"/>
<rect x="1577" y="142" width="13" height="15" fill="#808080"/><rect x="1579" y="148" width="9" height="7" fill="#fff"/><circle cx="1583.5" cy="151.5" r="2" fill="none" stroke="#808080" shape-rendering="auto"/><rect x="1574" y="144" width="2" height="13" fill="#808080"/><rect x="1591" y="144" width="2" height="13" fill="#808080"/><rect x="1576" y="157" width="15" height="1" fill="#fff"/>
<rect x="1574" y="167" width="19" height="9" fill="#808080"/><rect x="1574" y="176" width="19" height="2" fill="#fff"/><path d="M1574 182.5 H1593" stroke="#808080"/><path d="M1578 179 V182 M1582 179 V182 M1586 179 V182 M1590 179 V182" stroke="#808080" stroke-width="1.5"/>
<rect x="1574" y="194" width="8" height="8" fill="#808080"/><rect x="1576" y="196" width="4" height="4" fill="#fff"/><rect x="1585" y="194" width="8" height="8" fill="#808080"/><rect x="1587" y="196" width="4" height="4" fill="#fff"/><path d="M1574 207.5 H1593" stroke="#808080"/><path d="M1576 205 V208 M1579 205 V208 M1587 205 V208 M1590 205 V208" stroke="#808080"/>
<rect x="1574" y="220" width="15" height="10" fill="#808080"/><path d="M1575 226 L1578 223 L1581 226 L1584 223 L1588 226" stroke="#fff" fill="none" stroke-width="1.3"/><path d="M1590.5 220 V230 M1592.5 220 V230" stroke="#808080"/><path d="M1590 223.5 H1593 M1590 226.5 H1593" stroke="#fff"/><rect x="1574" y="231" width="19" height="5" fill="#808080"/><rect x="1575" y="232" width="17" height="2" fill="#fff"/><path d="M1576 232 V236 M1580 232 V236" stroke="#808080"/>
<rect x="1574" y="246" width="15" height="10" fill="#808080"/><path d="M1575 252 L1578 249 L1581 252 L1584 249 L1588 252" stroke="#fff" fill="none" stroke-width="1.3"/><path d="M1590.5 246 V256 M1592.5 246 V256" stroke="#808080"/><path d="M1590 249.5 H1593 M1590 252.5 H1593" stroke="#fff"/><rect x="1574" y="257" width="19" height="5" fill="#808080"/><rect x="1575" y="258" width="17" height="2" fill="#fff"/><path d="M1576 258 V262 M1580 258 V262" stroke="#808080"/>
<rect x="1574" y="272" width="15" height="9" fill="#808080"/><path d="M1591.5 272 V282" stroke="#808080" stroke-width="2"/><path d="M1590 275.5 H1593 M1590 278.5 H1593" stroke="#fff"/><rect x="1574" y="281" width="19" height="2" fill="#fff"/><path d="M1574 287.5 H1593" stroke="#808080"/><path d="M1578 284 V287 M1582 284 V287 M1586 284 V287 M1590 284 V287" stroke="#808080" stroke-width="1.5"/>
<rect x="1574" y="298" width="19" height="9" fill="#808080"/><rect x="1574" y="307" width="19" height="2" fill="#fff"/><path d="M1574 313.5 H1593" stroke="#808080"/><path d="M1578 310 V313 M1582 310 V313 M1586 310 V313 M1590 310 V313" stroke="#808080" stroke-width="1.5"/>
<rect x="1574" y="324" width="19" height="9" fill="#808080"/><rect x="1574" y="333" width="19" height="2" fill="#fff"/><path d="M1574 339.5 H1593" stroke="#808080"/><path d="M1578 336 V339 M1582 336 V339 M1586 336 V339 M1590 336 V339" stroke="#808080" stroke-width="1.5"/>
<rect x="1574" y="351" width="19" height="9" fill="#808080"/><rect x="1574" y="360" width="19" height="2" fill="#fff"/><path d="M1574 366.5 H1593" stroke="#808080"/><path d="M1578 363 V366 M1582 363 V366 M1586 363 V366 M1590 363 V366" stroke="#808080" stroke-width="1.5"/>
<rect x="1578" y="377" width="15" height="16" fill="#808080"/><path d="M1575.5 377 V393" stroke="#808080"/><path d="M1574 380.5 H1577 M1574 383.5 H1577 M1574 386.5 H1577 M1574 389.5 H1577" stroke="#808080"/>
<rect x="1574" y="403" width="15" height="9" fill="#808080"/><path d="M1591.5 403 V413" stroke="#808080" stroke-width="2"/><path d="M1590 406.5 H1593 M1590 409.5 H1593" stroke="#fff"/><rect x="1574" y="412" width="19" height="2" fill="#fff"/><path d="M1574 418.5 H1593" stroke="#808080"/><path d="M1578 415 V418 M1582 415 V418 M1586 415 V418 M1590 415 V418" stroke="#808080" stroke-width="1.5"/>
<rect x="1574" y="429" width="19" height="8" fill="#808080"/><rect x="1574" y="437" width="19" height="2" fill="#fff"/><path d="M1574 444.5 H1593" stroke="#808080"/><path d="M1578 441 V444 M1582 441 V444 M1586 441 V444 M1590 441 V444" stroke="#808080" stroke-width="1.5"/>
<rect x="1574" y="455" width="15" height="8" fill="#808080"/><path d="M1591.5 455 V465" stroke="#808080" stroke-width="2"/><path d="M1590 458.5 H1593 M1590 461.5 H1593" stroke="#fff"/><rect x="1574" y="463" width="19" height="2" fill="#fff"/><path d="M1574 470.5 H1593" stroke="#808080"/><path d="M1578 467 V470 M1582 467 V470 M1586 467 V470 M1590 467 V470" stroke="#808080" stroke-width="1.5"/>
<rect x="1574" y="482" width="15" height="9" fill="#808080"/><path d="M1591.5 482 V492" stroke="#808080" stroke-width="2"/><path d="M1590 485.5 H1593 M1590 488.5 H1593" stroke="#fff"/><rect x="1574" y="491" width="19" height="2" fill="#fff"/><path d="M1574 497.5 H1593" stroke="#808080"/><path d="M1578 494 V497 M1582 494 V497 M1586 494 V497 M1590 494 V497" stroke="#808080" stroke-width="1.5"/>
<rect x="1574" y="508" width="15" height="9" fill="none" stroke="#808080" stroke-width="1.5"/><path d="M1577 516 L1586 510" stroke="#808080"/><path d="M1590.5 508 V518 M1592.5 508 V518" stroke="#808080"/><path d="M1574 523.5 H1593" stroke="#808080"/><path d="M1578 520 V523 M1583 520 V523 M1588 520 V523" stroke="#808080" stroke-width="1.5"/>
<rect x="1574" y="534" width="19" height="9" fill="#808080"/><rect x="1574" y="543" width="19" height="2" fill="#fff"/><path d="M1574 549.5 H1593" stroke="#808080"/><path d="M1578 546 V549 M1582 546 V549 M1586 546 V549 M1590 546 V549" stroke="#808080" stroke-width="1.5"/>
<rect x="1574" y="560" width="15" height="10" fill="#808080"/><path d="M1575 566 L1578 563 L1581 566 L1584 563 L1588 566" stroke="#fff" fill="none" stroke-width="1.3"/><path d="M1590.5 560 V570 M1592.5 560 V570" stroke="#808080"/><path d="M1590 563.5 H1593 M1590 566.5 H1593" stroke="#fff"/><rect x="1574" y="571" width="19" height="5" fill="#808080"/><rect x="1575" y="572" width="17" height="2" fill="#fff"/><path d="M1576 572 V576 M1580 572 V576" stroke="#808080"/>
<rect x="1574" y="586" width="15" height="10" fill="#808080"/><path d="M1575 592 L1578 589 L1581 592 L1584 589 L1588 592" stroke="#fff" fill="none" stroke-width="1.3"/><path d="M1590.5 586 V596 M1592.5 586 V596" stroke="#808080"/><path d="M1590 589.5 H1593 M1590 592.5 H1593" stroke="#fff"/><rect x="1574" y="597" width="19" height="5" fill="#808080"/><rect x="1575" y="598" width="17" height="2" fill="#fff"/><path d="M1576 598 V602 M1580 598 V602" stroke="#808080"/>
<rect x="1570" y="609" width="27" height="1" fill="#808080" />
<rect x="1570" y="610" width="27" height="1" fill="#ffffff" />
<rect x="1576" y="618" width="16" height="16" fill="#707070"/><path d="M1575 619 V633 M1593 619 V633 M1577 617 H1591 M1577 635 H1591" stroke="#707070" stroke-dasharray="1 1"/>
<path d="M1582 642 L1585 644.5 L1582 647 Z" fill="#808080"/>
<rect x="1570" y="655" width="27" height="1" fill="#808080" />
<rect x="1570" y="656" width="27" height="1" fill="#ffffff" />
<path d="M1574 674 L1579 679 L1585 675 L1592 672 M1579 679 L1581 682 L1587 679 M1584 669 L1589 671 L1592 673" fill="none" stroke="#a8a8a8" stroke-width="1.4" stroke-dasharray="2 1"/>
<path d="M1577 672 L1581 675" stroke="#808080" stroke-width="2"/>
<path d="M1582 688 L1585 690.5 L1582 693 Z" fill="#808080"/>
<rect x="1570" y="701" width="27" height="1" fill="#808080" />
<rect x="1570" y="702" width="27" height="1" fill="#ffffff" />
<g shape-rendering="auto"><circle cx="1578.5" cy="723" r="3" fill="none" stroke="#707070" stroke-width="2.2"/><path d="M1581 721 L1585 719 V711 M1585 711 Q1587 709 1588 712 Q1590 714 1592 712 M1582 725.5 H1593" fill="none" stroke="#707070" stroke-width="1.6"/><path d="M1583 726.5 H1594 M1586 712 V719" stroke="#fff" stroke-width="1"/></g>
<rect x="3" y="129" width="102" height="20" fill="url(#pgrad)" />
<clipPath id="ptc"><rect x="3" y="129" width="102" height="20"/></clipPath>
<text x="6.5" y="143" font-family='"Liberation Sans", sans-serif' font-size="13.8" font-weight="normal" fill="#dcdcd8" text-anchor="start" textLength="118" lengthAdjust="spacingAndGlyphs" clip-path="url(#ptc)">Панель разработки</text>
<g transform="translate(11,160)"><path d="M0.5 0.5 H11.5 L14.5 3.5 V16.5 H0.5 Z" fill="#fff" stroke="#000080"/><path d="M14.5 9 V16.5 H7 Z" fill="#ffff00"/><rect x="15" y="2" width="2" height="15" fill="#808080"/></g>
<g transform="translate(40,161)"><path d="M0.5 5.5 H3.5 L5 4 H10 V7.5 H16.5 L12.5 16.5 H0.5 Z" fill="#ffff60" stroke="#000"/><path d="M3 9.5 H18.5 L14.5 16.5 H0.5 Z" fill="#ffff00" stroke="#000"/><path d="M11 3 Q14 -1 17 3" fill="none" stroke="#000"/><path d="M15 3 H19 V7 Z" fill="#000"/></g>
<g transform="translate(71,160)"><rect x="0.5" y="0.5" width="17" height="17" fill="#a0a0a0" stroke="#404040"/><rect x="3" y="1" width="12" height="8" fill="#ffff80"/><path d="M4 2 L13 8 M8 1 L15 5" stroke="#c0c000"/><rect x="5" y="12" width="8" height="5" fill="#000"/><rect x="7" y="13" width="2" height="3" fill="#a0a0a0"/></g>
<g transform="translate(101,165)"><rect x="0.5" y="0.5" width="8" height="12" fill="#fff" stroke="#000"/><rect x="0" y="0" width="9" height="3" fill="#000080"/><path d="M2 6.5 H8 M2 9.5 H8" stroke="#000"/></g>
<g transform="translate(115,159)"><rect x="0.5" y="0.5" width="12" height="13" fill="#fffff0" stroke="#808000"/><rect x="3.5" y="3.5" width="12" height="13" fill="#fffff0" stroke="#808000"/><rect x="6.5" y="6.5" width="12" height="12" fill="#fff" stroke="#808000"/><circle cx="12.5" cy="13" r="5" fill="#ffff00" stroke="#0000c0" stroke-width="1.6" shape-rendering="auto"/><path d="M12.5 10 V13 H15" stroke="#0000c0" fill="none"/></g>
<rect x="108" y="131" width="16" height="16" fill="#d4d0c8" />
<rect x="108" y="131" width="16" height="1" fill="#ffffff" />
<rect x="108" y="131" width="1" height="16" fill="#ffffff" />
<rect x="108" y="146" width="16" height="1" fill="#404040" />
<rect x="123" y="131" width="1" height="16" fill="#404040" />
<rect x="109" y="145" width="14" height="1" fill="#808080" />
<rect x="122" y="132" width="1" height="14" fill="#808080" />
<path d="M112 141 L116 137 L120 141 Z" fill="#808080" stroke="#fff" stroke-width="0.5"/>
<rect x="126" y="131" width="16" height="16" fill="#d4d0c8" />
<rect x="126" y="131" width="16" height="1" fill="#ffffff" />
<rect x="126" y="131" width="1" height="16" fill="#ffffff" />
<rect x="126" y="146" width="16" height="1" fill="#404040" />
<rect x="141" y="131" width="1" height="16" fill="#404040" />
<rect x="127" y="145" width="14" height="1" fill="#808080" />
<rect x="140" y="132" width="1" height="14" fill="#808080" />
<path d="M130 135 L138 143 M138 135 L130 143" stroke="#000" stroke-width="2.5" shape-rendering="auto"/>
<rect x="3" y="152" width="140" height="1" fill="#ffffff" />
<rect x="3" y="152" width="1" height="966" fill="#ffffff" />
<rect x="141" y="152" width="1" height="966" fill="#404040" />
<rect x="140" y="153" width="1" height="965" fill="#808080" />
<rect x="5" y="183" width="134" height="933" fill="#ffffff" />
<rect x="5" y="183" width="134" height="1" fill="#808080" />
<rect x="5" y="183" width="1" height="933" fill="#808080" />
<rect x="6" y="184" width="132" height="1" fill="#404040" />
<rect x="6" y="184" width="1" height="931" fill="#404040" />
<rect x="5" y="1115" width="134" height="1" fill="#ffffff" />
<rect x="138" y="183" width="1" height="933" fill="#ffffff" />
<rect x="6" y="1114" width="132" height="1" fill="#d4d0c8" />
<rect x="137" y="184" width="1" height="931" fill="#d4d0c8" />
<text x="6" y="201" font-family='"Liberation Sans", sans-serif' font-size="15" font-weight="normal" fill="#000" text-anchor="start" textLength="131" lengthAdjust="spacingAndGlyphs" >делирование стабил</text>
<rect x="7" y="207" width="130" height="22" fill="#d4d0c8" />
<text x="10" y="223" font-family='"Liberation Sans", sans-serif' font-size="15" font-weight="normal" fill="#000" text-anchor="start" textLength="127" lengthAdjust="spacingAndGlyphs" >Моделирование ста</text>
<rect x="7" y="1094" width="130" height="20" fill="url(#chk)" />
<rect x="6" y="1094" width="21" height="20" fill="#d4d0c8" />
<rect x="7" y="1095" width="19" height="1" fill="#ffffff" />
<rect x="7" y="1095" width="1" height="18" fill="#ffffff" />
<rect x="6" y="1113" width="21" height="1" fill="#404040" />
<rect x="26" y="1094" width="1" height="20" fill="#404040" />
<rect x="7" y="1112" width="19" height="1" fill="#808080" />
<rect x="25" y="1095" width="1" height="18" fill="#808080" />
<path d="M13.5 1104 L18 1099.5 L18 1108.5 Z" fill="#000"/>
<rect x="40" y="1094" width="24" height="20" fill="#d4d0c8" />
<rect x="41" y="1095" width="22" height="1" fill="#ffffff" />
<rect x="41" y="1095" width="1" height="18" fill="#ffffff" />
<rect x="40" y="1113" width="24" height="1" fill="#404040" />
<rect x="63" y="1094" width="1" height="20" fill="#404040" />
<rect x="41" y="1112" width="22" height="1" fill="#808080" />
<rect x="62" y="1095" width="1" height="18" fill="#808080" />
<rect x="117" y="1094" width="20" height="20" fill="#d4d0c8" />
<rect x="118" y="1095" width="18" height="1" fill="#ffffff" />
<rect x="118" y="1095" width="1" height="18" fill="#ffffff" />
<rect x="117" y="1113" width="20" height="1" fill="#404040" />
<rect x="136" y="1094" width="1" height="20" fill="#404040" />
<rect x="118" y="1112" width="18" height="1" fill="#808080" />
<rect x="135" y="1095" width="1" height="18" fill="#808080" />
<path d="M130 1104 L125 1099 L125 1109 Z" fill="#000"/>
<rect x="3" y="1117" width="139" height="1" fill="#404040" />
<rect x="77" y="1118" width="28" height="22" fill="#d4d0c8" />
<rect x="77" y="1118" width="28" height="1" fill="#ffffff" />
<rect x="77" y="1118" width="1" height="22" fill="#ffffff" />
<text x="82" y="1135" font-family='"Liberation Sans", sans-serif' font-size="14" font-weight="normal" fill="#000" text-anchor="start" textLength="22" lengthAdjust="spacingAndGlyphs" >Отс</text>
<rect x="4" y="1117" width="73" height="24" fill="#d4d0c8" />
<rect x="4" y="1117" width="1" height="24" fill="#ffffff" />
<rect x="5" y="1141" width="72" height="1" fill="#404040" />
<rect x="5" y="1140" width="72" height="1" fill="#808080" />
<rect x="76" y="1118" width="1" height="24" fill="#404040" />
<text x="11.5" y="1136" font-family='"Liberation Sans", sans-serif' font-size="14" font-weight="normal" fill="#000" text-anchor="start" textLength="58" lengthAdjust="spacingAndGlyphs" >Структура</text>
<rect x="102" y="1121" width="19" height="19" fill="#d4d0c8" />
<rect x="103" y="1122" width="17" height="1" fill="#ffffff" />
<rect x="103" y="1122" width="1" height="17" fill="#ffffff" />
<rect x="102" y="1139" width="19" height="1" fill="#404040" />
<rect x="120" y="1121" width="1" height="19" fill="#404040" />
<rect x="103" y="1138" width="17" height="1" fill="#808080" />
<rect x="119" y="1122" width="1" height="17" fill="#808080" />
<path d="M107 1130.5 L113 1125 L113 1136 Z" fill="#000"/>
<rect x="122" y="1121" width="19" height="19" fill="#d4d0c8" />
<rect x="123" y="1122" width="17" height="1" fill="#ffffff" />
<rect x="123" y="1122" width="1" height="17" fill="#ffffff" />
<rect x="122" y="1139" width="19" height="1" fill="#404040" />
<rect x="140" y="1121" width="1" height="19" fill="#404040" />
<rect x="123" y="1138" width="17" height="1" fill="#808080" />
<rect x="139" y="1122" width="1" height="17" fill="#808080" />
<path d="M135 1130.5 L129 1125 L129 1136 Z" fill="#000"/>
<rect x="147" y="126" width="1" height="1022" fill="#ffffff" />
<rect x="152" y="127" width="1" height="1021" fill="#404040" />
<rect x="153" y="126" width="1" height="1022" fill="#ffffff" />
<rect x="0" y="126" width="154" height="1" fill="#ffffff" />
<rect x="1567" y="126" width="1" height="993" fill="#404040" />
<rect x="159" y="132" width="1383" height="959" fill="#ffffff" />
<rect x="159" y="132" width="1383" height="959" fill="url(#grid)" />
<rect x="1361" y="205" width="1" height="202" fill="#ffffff" />
<clipPath id="cvc"><rect x="159" y="132" width="1383" height="959"/></clipPath>
<rect x="160" y="156" width="1382" height="1" fill="#707070" />
<rect x="160" y="132" width="1" height="959" fill="#808080" />
<text x="218" y="148" font-family='"Liberation Sans", sans-serif' font-size="11.5" font-weight="normal" fill="#a8a8a8" text-anchor="middle" >0</text>
<rect x="280" y="131" width="1" height="25" fill="#707070" />
<text x="338" y="148" font-family='"Liberation Sans", sans-serif' font-size="11.5" font-weight="normal" fill="#a8a8a8" text-anchor="middle" >1</text>
<rect x="400" y="131" width="1" height="25" fill="#707070" />
<text x="458" y="148" font-family='"Liberation Sans", sans-serif' font-size="11.5" font-weight="normal" fill="#a8a8a8" text-anchor="middle" >2</text>
<rect x="520" y="131" width="1" height="25" fill="#707070" />
<text x="578" y="148" font-family='"Liberation Sans", sans-serif' font-size="11.5" font-weight="normal" fill="#a8a8a8" text-anchor="middle" >3</text>
<rect x="640" y="131" width="1" height="25" fill="#707070" />
<text x="698" y="148" font-family='"Liberation Sans", sans-serif' font-size="11.5" font-weight="normal" fill="#a8a8a8" text-anchor="middle" >4</text>
<rect x="760" y="131" width="1" height="25" fill="#707070" />
<text x="818" y="148" font-family='"Liberation Sans", sans-serif' font-size="11.5" font-weight="normal" fill="#a8a8a8" text-anchor="middle" >5</text>
<rect x="880" y="131" width="1" height="25" fill="#707070" />
<text x="938" y="148" font-family='"Liberation Sans", sans-serif' font-size="11.5" font-weight="normal" fill="#a8a8a8" text-anchor="middle" >6</text>
<rect x="1000" y="131" width="1" height="25" fill="#707070" />
<text x="1058" y="148" font-family='"Liberation Sans", sans-serif' font-size="11.5" font-weight="normal" fill="#a8a8a8" text-anchor="middle" >7</text>
<rect x="1120" y="131" width="1" height="25" fill="#707070" />
<text x="1178" y="148" font-family='"Liberation Sans", sans-serif' font-size="11.5" font-weight="normal" fill="#a8a8a8" text-anchor="middle" >8</text>
<rect x="1240" y="131" width="1" height="25" fill="#707070" />
<text x="1298" y="148" font-family='"Liberation Sans", sans-serif' font-size="11.5" font-weight="normal" fill="#a8a8a8" text-anchor="middle" >9</text>
<rect x="1360" y="131" width="1" height="25" fill="#707070" />
<text x="1418" y="148" font-family='"Liberation Sans", sans-serif' font-size="11.5" font-weight="normal" fill="#a8a8a8" text-anchor="middle" >10</text>
<rect x="1480" y="131" width="1" height="25" fill="#707070" />
<text x="1535.5" y="148" font-family='"Liberation Sans", sans-serif' font-size="11.5" font-weight="normal" fill="#a8a8a8" text-anchor="middle" >1</text>
<rect x="1542" y="131" width="20" height="960" fill="#d4d0c8" />
<rect x="1542" y="839" width="20" height="232" fill="url(#chk)" />
<rect x="1542" y="131" width="20" height="20" fill="#d4d0c8" />
<rect x="1543" y="132" width="18" height="1" fill="#ffffff" />
<rect x="1543" y="132" width="1" height="18" fill="#ffffff" />
<rect x="1542" y="150" width="20" height="1" fill="#404040" />
<rect x="1561" y="131" width="1" height="20" fill="#404040" />
<rect x="1543" y="149" width="18" height="1" fill="#808080" />
<rect x="1560" y="132" width="1" height="18" fill="#808080" />
<path d="M1547 143 L1551.5 138.5 L1556 143 Z" fill="#000"/>
<rect x="1542" y="151" width="20" height="688" fill="#d4d0c8" />
<rect x="1543" y="152" width="18" height="1" fill="#ffffff" />
<rect x="1543" y="152" width="1" height="686" fill="#ffffff" />
<rect x="1542" y="838" width="20" height="1" fill="#404040" />
<rect x="1561" y="151" width="1" height="688" fill="#404040" />
<rect x="1543" y="837" width="18" height="1" fill="#808080" />
<rect x="1560" y="152" width="1" height="686" fill="#808080" />
<rect x="1542" y="1071" width="20" height="20" fill="#d4d0c8" />
<rect x="1543" y="1072" width="18" height="1" fill="#ffffff" />
<rect x="1543" y="1072" width="1" height="18" fill="#ffffff" />
<rect x="1542" y="1090" width="20" height="1" fill="#404040" />
<rect x="1561" y="1071" width="1" height="20" fill="#404040" />
<rect x="1543" y="1089" width="18" height="1" fill="#808080" />
<rect x="1560" y="1072" width="1" height="18" fill="#808080" />
<path d="M1547.5 1078.5 L1552 1083 L1556.5 1078.5 Z" fill="#000"/>
<rect x="159" y="1091" width="1383" height="20" fill="#d4d0c8" />
<rect x="179" y="1091" width="17" height="20" fill="url(#chk)" />
<rect x="159" y="1091" width="20" height="20" fill="#d4d0c8" />
<rect x="160" y="1092" width="18" height="1" fill="#ffffff" />
<rect x="160" y="1092" width="1" height="18" fill="#ffffff" />
<rect x="159" y="1110" width="20" height="1" fill="#404040" />
<rect x="178" y="1091" width="1" height="20" fill="#404040" />
<rect x="160" y="1109" width="18" height="1" fill="#808080" />
<rect x="177" y="1092" width="1" height="18" fill="#808080" />
<path d="M166.5 1101 L171 1096.5 L171 1105.5 Z" fill="#000"/>
<rect x="196" y="1091" width="996" height="20" fill="#d4d0c8" />
<rect x="197" y="1092" width="994" height="1" fill="#ffffff" />
<rect x="197" y="1092" width="1" height="18" fill="#ffffff" />
<rect x="196" y="1110" width="996" height="1" fill="#404040" />
<rect x="1191" y="1091" width="1" height="20" fill="#404040" />
<rect x="197" y="1109" width="994" height="1" fill="#808080" />
<rect x="1190" y="1092" width="1" height="18" fill="#808080" />
<rect x="1192" y="1091" width="330" height="20" fill="url(#chk)" />
<rect x="1522" y="1091" width="20" height="20" fill="#d4d0c8" />
<rect x="1523" y="1092" width="18" height="1" fill="#ffffff" />
<rect x="1523" y="1092" width="1" height="18" fill="#ffffff" />
<rect x="1522" y="1110" width="20" height="1" fill="#404040" />
<rect x="1541" y="1091" width="1" height="20" fill="#404040" />
<rect x="1523" y="1109" width="18" height="1" fill="#808080" />
<rect x="1540" y="1092" width="1" height="18" fill="#808080" />
<path d="M1535 1101 L1530.5 1096.5 L1530.5 1105.5 Z" fill="#000"/>
<rect x="1542" y="1091" width="20" height="20" fill="#d4d0c8" />
<rect x="157" y="130" width="1407" height="1" fill="#808080" />
<rect x="158" y="131" width="1405" height="1" fill="#404040" />
<rect x="157" y="130" width="1" height="983" fill="#808080" />
<rect x="158" y="131" width="1" height="981" fill="#404040" />
<rect x="157" y="1112" width="1407" height="1" fill="#ffffff" />
<rect x="158" y="1111" width="1405" height="1" fill="#d4d0c8" />
<rect x="1563" y="130" width="1" height="983" fill="#ffffff" />
<rect x="1562" y="131" width="1" height="981" fill="#d4d0c8" />
<rect x="157" y="1113" width="1" height="32" fill="#ffffff" />
<rect x="616" y="1118" width="1" height="27" fill="#404040" />
<rect x="158" y="1145" width="458" height="1" fill="#404040" />
<rect x="617" y="1118" width="951" height="1" fill="#404040" />
<g transform="translate(160,1122) scale(1.25)"><path d="M0.7 0.7 H10.6 L15.4 5.5 V15.3 H0.7 Z" fill="#fff" stroke="#000" stroke-width="1.4"/><path d="M10.6 0.7 V5.5 H15.4" fill="none" stroke="#000" stroke-width="1.4"/><rect x="1.3" y="2.8" width="2.5" height="1.3" fill="#f00"/><rect x="1.8" y="5" width="1.3" height="4.8" fill="#f00"/><rect x="1.3" y="8.6" width="2.5" height="1.3" fill="#f00"/><rect x="7.9" y="3.5" width="1.3" height="8" fill="#f00"/><rect x="7.9" y="3.5" width="2.5" height="1.3" fill="#f00"/><rect x="6.5" y="10.5" width="2.5" height="1.3" fill="#f00"/><rect x="1.8" y="12.8" width="1.3" height="2.2" fill="#f00"/><path d="M5.6 2.5 Q3.8 2.5 3.8 4.5 Q3.8 6.6 5.6 6.6 M5.2 2.5 H6 M5.2 6.6 H6 M6.5 3.5 V5.6" fill="none" stroke="#000" stroke-width="1.1" shape-rendering="auto"/><path d="M3.5 9.5 L6.5 11 M5 9 V13.5 M3.5 13.5 L6.5 11.5" fill="none" stroke="#000" stroke-width="1.1" shape-rendering="auto"/></g>
<text x="184.5" y="1137" font-family='"Liberation Sans", sans-serif' font-size="14" font-weight="normal" fill="#000" text-anchor="start" textLength="427" lengthAdjust="spacingAndGlyphs" >Моделирование стабилизатора на LM317 из темы на Радиокоте *</text>
<rect x="1548" y="1125" width="17" height="17" fill="#d4d0c8" />
<rect x="1548" y="1125" width="17" height="1" fill="#ffffff" />
<rect x="1548" y="1125" width="1" height="17" fill="#ffffff" />
<rect x="1548" y="1141" width="17" height="1" fill="#404040" />
<rect x="1564" y="1125" width="1" height="17" fill="#404040" />
<rect x="1549" y="1140" width="15" height="1" fill="#808080" />
<rect x="1563" y="1126" width="1" height="15" fill="#808080" />
<g><rect x="1551" y="1129" width="7" height="5" fill="none" stroke="#00008c" stroke-width="2"/><rect x="1555" y="1133" width="7" height="5" fill="#d4d0c8" stroke="#00008c" stroke-width="2"/><rect x="1553.5" y="1131.5" width="6" height="4" fill="none" stroke="#3030ff" stroke-width="1"/></g>
<rect x="1568" y="1145" width="32" height="1" fill="#ffffff" />
<rect x="1568" y="126" width="31" height="1" fill="#ffffff" />
<rect x="1598" y="126" width="1" height="609" fill="#808080" />
<rect x="1568" y="734" width="31" height="1" fill="#808080" />
<rect x="315" y="672" width="1" height="79" fill="#ff0000" />
<rect x="315" y="727" width="1" height="58" fill="#ff0000" />
<rect x="315" y="457" width="1" height="216" fill="#ff0000" />
<rect x="315" y="277" width="1" height="137" fill="#ff0000" />
<rect x="315" y="277" width="316" height="1" fill="#ff0000" />
<rect x="720" y="277" width="339" height="1" fill="#ff0000" />
<rect x="1058" y="277" width="1" height="137" fill="#ff0000" />
<rect x="315" y="379" width="283" height="1" fill="#ff0000" />
<rect x="653" y="379" width="170" height="1" fill="#ff0000" />
<rect x="383" y="379" width="1" height="35" fill="#ff0000" />
<rect x="383" y="470" width="1" height="67" fill="#ff0000" />
<rect x="315" y="536" width="69" height="1" fill="#ff0000" />
<rect x="439" y="379" width="1" height="79" fill="#ff0000" />
<rect x="439" y="515" width="1" height="57" fill="#ff0000" />
<rect x="439" y="627" width="1" height="11" fill="#ff0000" />
<rect x="405" y="637" width="35" height="1" fill="#ff0000" />
<rect x="315" y="637" width="25" height="1" fill="#ff0000" />
<rect x="473" y="604" width="1" height="46" fill="#ff0000" />
<rect x="473" y="649" width="58" height="1" fill="#ff0000" />
<rect x="675" y="312" width="1" height="68" fill="#ff0000" />
<rect x="956" y="379" width="24" height="1" fill="#ff0000" />
<rect x="979" y="266" width="1" height="114" fill="#ff0000" />
<rect x="1001" y="266" width="1" height="80" fill="#ff0000" />
<rect x="1001" y="345" width="58" height="1" fill="#ff0000" />
<rect x="1058" y="379" width="214" height="1" fill="#ff0000" />
<rect x="1271" y="379" width="1" height="248" fill="#ff0000" />
<rect x="1271" y="682" width="1" height="69" fill="#ff0000" />
<rect x="1058" y="469" width="1" height="148" fill="#ff0000" />
<rect x="1125" y="379" width="1" height="35" fill="#ff0000" />
<rect x="1125" y="469" width="1" height="192" fill="#ff0000" />
<rect x="1092" y="660" width="34" height="1" fill="#ff0000" />
<rect x="1193" y="379" width="1" height="114" fill="#ff0000" />
<rect x="1193" y="547" width="1" height="204" fill="#ff0000" />
<rect x="889" y="435" width="1" height="147" fill="#ff0000" />
<rect x="889" y="637" width="1" height="114" fill="#ff0000" />
<rect x="889" y="491" width="170" height="1" fill="#ff0000" />
<rect x="855" y="671" width="35" height="1" fill="#ff0000" />
<rect x="855" y="604" width="1" height="68" fill="#ff0000" />
<rect x="563" y="536" width="1" height="70" fill="#ff0000" />
<rect x="563" y="536" width="563" height="1" fill="#ff0000" />
<rect x="563" y="694" width="1" height="57" fill="#ff0000" />
<rect x="1058" y="705" width="1" height="46" fill="#ff0000" />
<rect x="315" y="750" width="957" height="1" fill="#ff0000" />
<rect x="315" y="413" width="1" height="12" fill="#000000" />
<rect x="300" y="424" width="30" height="1" fill="#000000" />
<rect x="308" y="431" width="15" height="1" fill="#000000" />
<rect x="300" y="439" width="30" height="1" fill="#000000" />
<rect x="308" y="446" width="15" height="1" fill="#000000" />
<rect x="315" y="446" width="1" height="12" fill="#000000" />
<text x="333" y="419.8" font-family='"Liberation Sans", sans-serif' font-size="16" font-weight="bold" fill="#000000" text-anchor="start" textLength="18" lengthAdjust="spacingAndGlyphs" >V1</text>
<text x="333" y="442.3" font-family='"Liberation Sans", sans-serif' font-size="16" font-weight="bold" fill="#000000" text-anchor="start" textLength="28" lengthAdjust="spacingAndGlyphs" >30V</text>
<rect x="383" y="413" width="1" height="24" fill="#000000" />
<rect x="371" y="436" width="26" height="3" fill="#000000" />
<rect x="370" y="437" width="1" height="1" fill="#000000" />
<rect x="397" y="437" width="1" height="1" fill="#000000" />
<path d="M371.0 450 Q373.5 445.5 378.5 445.3 L388.5 445.3 Q393.5 445.5 396.0 450" fill="none" stroke="#000" stroke-width="2.8" shape-rendering="auto"/>
<rect x="383" y="446" width="1" height="25" fill="#000000" />
<rect x="371" y="429" width="8" height="1" fill="#000000" />
<rect x="374" y="425" width="1" height="8" fill="#000000" />
<text x="386.7" y="413.8" font-family='"Liberation Sans", sans-serif' font-size="16" font-weight="bold" fill="#000000" text-anchor="start" textLength="19" lengthAdjust="spacingAndGlyphs" >C1</text>
<text x="387.8" y="434.1" font-family='"Liberation Sans", sans-serif' font-size="16" font-weight="bold" fill="#000000" text-anchor="start" textLength="35.7" lengthAdjust="spacingAndGlyphs" >10µF</text>
<rect x="439" y="457" width="1" height="12" fill="#000000" />
<path d="M439.50 469.20 L444.50 471.30 L433.50 476.30 L444.50 482.30 L433.50 487.30 L444.50 494.40 L433.50 499.30 L439.50 502.00" fill="none" stroke="#000000" stroke-width="1.2" shape-rendering="auto" stroke-linejoin="miter"/>
<rect x="439" y="502" width="1" height="14" fill="#000000" />
<text x="446.8" y="469.6" font-family='"Liberation Sans", sans-serif' font-size="16" font-weight="bold" fill="#000000" text-anchor="start" textLength="20" lengthAdjust="spacingAndGlyphs" >R5</text>
<text x="447.5" y="490.3" font-family='"Liberation Sans", sans-serif' font-size="16" font-weight="bold" fill="#000000" text-anchor="start" textLength="38.7" lengthAdjust="spacingAndGlyphs" >10kΩ</text>
<rect x="597" y="379" width="12" height="1" fill="#000000" />
<path d="M608.40 379.50 L611.40 372.90 L616.50 384.50 L623.50 372.90 L628.50 384.50 L634.40 372.90 L639.40 384.50 L641.60 379.50" fill="none" stroke="#000000" stroke-width="1.2" shape-rendering="auto" stroke-linejoin="miter"/>
<rect x="642" y="379" width="12" height="1" fill="#000000" />
<text x="614.6" y="364.7" font-family='"Liberation Sans", sans-serif' font-size="16" font-weight="bold" fill="#000000" text-anchor="start" textLength="18.2" lengthAdjust="spacingAndGlyphs" >R1</text>
<text x="608" y="401.2" font-family='"Liberation Sans", sans-serif' font-size="16" font-weight="bold" fill="#000000" text-anchor="start" textLength="30" lengthAdjust="spacingAndGlyphs" >22Ω</text>
<rect x="439" y="571" width="1" height="12" fill="#000000" />
<path d="M439.50 581.70 L444.50 584.30 L433.50 589.50 L443.70 595.40 L433.50 600.30 L444.50 606.20 L433.50 611.40 L439.50 615.00" fill="none" stroke="#000000" stroke-width="1.2" shape-rendering="auto" stroke-linejoin="miter"/>
<rect x="439" y="615" width="1" height="13" fill="#000000" />
<rect x="462" y="604" width="12" height="1" fill="#000000" />
<path d="M462.00 604.50 L449.00 598.50" fill="none" stroke="#000000" stroke-width="1.2" shape-rendering="auto" stroke-linejoin="miter"/>
<path d="M444.60 595.70 L453.80 595.40 L450.20 601.30 Z" fill="#000000" stroke="#000000" stroke-width="0.6" shape-rendering="auto"/>
<text x="387.8" y="559.8" font-family='"Liberation Sans", sans-serif' font-size="16" font-weight="bold" fill="#000000" text-anchor="start" textLength="39.4" lengthAdjust="spacingAndGlyphs" >500Ω</text>
<text x="377.9" y="578.6" font-family='"Liberation Sans", sans-serif' font-size="16" font-weight="bold" fill="#000000" text-anchor="start" textLength="49.3" lengthAdjust="spacingAndGlyphs" >Key=S</text>
<text x="447.7" y="569.0" font-family='"Liberation Sans", sans-serif' font-size="16" font-weight="bold" fill="#000000" text-anchor="start" textLength="20" lengthAdjust="spacingAndGlyphs" >R6</text>
<text x="453.4" y="592.8" font-family='"Liberation Sans", sans-serif' font-size="16" font-weight="bold" fill="#000000" text-anchor="start" textLength="36" lengthAdjust="spacingAndGlyphs" >50 %</text>
<rect x="339" y="637" width="67" height="1" fill="#0000ff" />
<rect x="364" y="628" width="1" height="20" fill="#0000ff" />
<rect x="363" y="628" width="2" height="20" fill="#0000ff" />
<path d="M365.00 637.50 L381.00 627.20 L381.00 647.90 Z" fill="#0000ff" stroke="#0000ff" stroke-width="0.6" shape-rendering="auto"/>
<text x="361.4" y="620.3" font-family='"Liberation Sans", sans-serif' font-size="16" font-weight="bold" fill="#0000ff" text-anchor="start" textLength="17.8" lengthAdjust="spacingAndGlyphs" >D1</text>
<text x="343.3" y="664.9" font-family='"Liberation Sans", sans-serif' font-size="16" font-weight="bold" fill="#0000ff" text-anchor="start" textLength="56.7" lengthAdjust="spacingAndGlyphs" >1N4149</text>
<rect x="315" y="672" width="1" height="12" fill="#000000" />
<path d="M315.50 683.30 L320.90 685.20 L309.70 690.00 L320.90 695.80 L309.70 700.70 L320.90 706.50 L309.70 711.30 L315.50 715.20" fill="none" stroke="#000000" stroke-width="1.2" shape-rendering="auto" stroke-linejoin="miter"/>
<rect x="315" y="715" width="1" height="13" fill="#000000" />
<text x="323.3" y="683.2" font-family='"Liberation Sans", sans-serif' font-size="16" font-weight="bold" fill="#000000" text-anchor="start" textLength="28.7" lengthAdjust="spacingAndGlyphs" >R04</text>
<text x="323.3" y="706.2" font-family='"Liberation Sans", sans-serif' font-size="16" font-weight="bold" fill="#000000" text-anchor="start" textLength="34.5" lengthAdjust="spacingAndGlyphs" >0.1Ω</text>
<rect x="315" y="784" width="1" height="12" fill="#000000" />
<rect x="304" y="795" width="23" height="1" fill="#000000" />
<rect x="307" y="799" width="17" height="1" fill="#000000" />
<rect x="311" y="802" width="9" height="1" fill="#000000" />
<circle cx="675" cy="280" r="18.8" fill="none" stroke="#0000ff" stroke-width="1.2" shape-rendering="auto"/>
<rect x="630" y="277" width="30" height="1" fill="#0000ff" />
<path d="M659.40 277.50 L665.20 290.20" fill="none" stroke="#0000ff" stroke-width="1.2" shape-rendering="auto" stroke-linejoin="miter"/>
<path d="M658.30 284.60 L664.90 280.10 L663.90 286.60 Z" fill="#0000ff" stroke="#0000ff" stroke-width="0.6" shape-rendering="auto"/>
<rect x="661" y="290" width="31" height="1" fill="#0000ff" />
<path d="M686.10 290.20 L692.90 277.50" fill="none" stroke="#0000ff" stroke-width="1.2" shape-rendering="auto" stroke-linejoin="miter"/>
<rect x="693" y="277" width="28" height="1" fill="#0000ff" />
<rect x="675" y="290" width="1" height="22" fill="#0000ff" />
<text x="660" y="230.1" font-family='"Liberation Sans", sans-serif' font-size="16" font-weight="bold" fill="#0000ff" text-anchor="start" textLength="27.8" lengthAdjust="spacingAndGlyphs" >VT1</text>
<text x="646" y="252.2" font-family='"Liberation Sans", sans-serif' font-size="16" font-weight="bold" fill="#0000ff" text-anchor="start" textLength="57" lengthAdjust="spacingAndGlyphs" >2N6475</text>
<rect x="844.6" y="367.6" width="89.8" height="44.8" fill="none" stroke="#0000ff" stroke-width="1.6"/>
<rect x="822" y="379" width="23" height="1" fill="#0000ff" />
<rect x="935" y="379" width="22" height="1" fill="#0000ff" />
<rect x="889" y="413" width="1" height="22" fill="#0000ff" />
<text x="879.4" y="337.2" font-family='"Liberation Sans", sans-serif' font-size="16" font-weight="bold" fill="#0000ff" text-anchor="start" textLength="18.4" lengthAdjust="spacingAndGlyphs" >U1</text>
<text x="857.5" y="360.1" font-family='"Liberation Sans", sans-serif' font-size="16" font-weight="bold" fill="#0000ff" text-anchor="start" textLength="62" lengthAdjust="spacingAndGlyphs" >LM317H</text>
<text x="850" y="382.8" font-family='"Liberation Sans", sans-serif' font-size="11" font-weight="bold" fill="#0000ff" text-anchor="start" textLength="17" lengthAdjust="spacingAndGlyphs" >Vin</text>
<text x="901.5" y="382.8" font-family='"Liberation Sans", sans-serif' font-size="11" font-weight="bold" fill="#0000ff" text-anchor="start" textLength="25.4" lengthAdjust="spacingAndGlyphs" >Vout</text>
<text x="879.4" y="405" font-family='"Liberation Sans", sans-serif' font-size="11" font-weight="bold" fill="#0000ff" text-anchor="start" textLength="21.9" lengthAdjust="spacingAndGlyphs" >ADJ</text>
<circle cx="560" cy="649" r="19" fill="none" stroke="#0000ff" stroke-width="1.2" shape-rendering="auto"/>
<rect x="530" y="649" width="21" height="1" fill="#0000ff" />
<rect x="550" y="634" width="1" height="30" fill="#0000ff" />
<path d="M551.00 638.50 L563.00 632.50" fill="none" stroke="#0000ff" stroke-width="1.2" shape-rendering="auto" stroke-linejoin="miter"/>
<rect x="563" y="605" width="1" height="29" fill="#0000ff" />
<path d="M551.00 659.50 L563.50 666.00" fill="none" stroke="#0000ff" stroke-width="1.2" shape-rendering="auto" stroke-linejoin="miter"/>
<path d="M559.30 659.20 L555.30 665.50 L561.80 664.80 Z" fill="#0000ff" stroke="#0000ff" stroke-width="0.6" shape-rendering="auto"/>
<rect x="563" y="665" width="1" height="30" fill="#0000ff" />
<text x="583.2" y="633.3" font-family='"Liberation Sans", sans-serif' font-size="16" font-weight="bold" fill="#0000ff" text-anchor="start" textLength="28.8" lengthAdjust="spacingAndGlyphs" >VT3</text>
<text x="583.2" y="655.6" font-family='"Liberation Sans", sans-serif' font-size="16" font-weight="bold" fill="#0000ff" text-anchor="start" textLength="56.5" lengthAdjust="spacingAndGlyphs" >2N3390</text>
<rect x="889" y="581" width="1" height="12" fill="#000000" />
<path d="M889.50 592.40 L895.80 596.00 L884.40 601.60 L895.80 607.00 L884.40 612.10 L895.80 619.40 L884.40 624.50 L889.50 626.70" fill="none" stroke="#000000" stroke-width="1.2" shape-rendering="auto" stroke-linejoin="miter"/>
<rect x="889" y="627" width="1" height="11" fill="#000000" />
<rect x="855" y="604" width="13" height="1" fill="#000000" />
<path d="M867.00 604.50 L880.00 609.50" fill="none" stroke="#000000" stroke-width="1.2" shape-rendering="auto" stroke-linejoin="miter"/>
<path d="M875.00 612.50 L879.00 606.00 L885.50 612.10 Z" fill="#000000" stroke="#000000" stroke-width="0.6" shape-rendering="auto"/>
<text x="898" y="584.3" font-family='"Liberation Sans", sans-serif' font-size="16" font-weight="bold" fill="#000000" text-anchor="start" textLength="29" lengthAdjust="spacingAndGlyphs" >R02</text>
<text x="898" y="607.3" font-family='"Liberation Sans", sans-serif' font-size="16" font-weight="bold" fill="#000000" text-anchor="start" textLength="29" lengthAdjust="spacingAndGlyphs" >5kΩ</text>
<text x="898" y="625.3" font-family='"Liberation Sans", sans-serif' font-size="16" font-weight="bold" fill="#000000" text-anchor="start" textLength="50" lengthAdjust="spacingAndGlyphs" >Key=A</text>
<text x="964" y="607.3" font-family='"Liberation Sans", sans-serif' font-size="16" font-weight="bold" fill="#000000" text-anchor="start" textLength="36" lengthAdjust="spacingAndGlyphs" >59 %</text>
<circle cx="1060" cy="660" r="18.9" fill="none" stroke="#0000ff" stroke-width="1.2" shape-rendering="auto"/>
<rect x="1058" y="616" width="1" height="27" fill="#0000ff" />
<path d="M1058.50 642.30 L1070.50 649.00" fill="none" stroke="#0000ff" stroke-width="1.2" shape-rendering="auto" stroke-linejoin="miter"/>
<rect x="1070" y="645" width="1" height="31" fill="#0000ff" />
<rect x="1070" y="660" width="23" height="1" fill="#0000ff" />
<path d="M1070.50 671.00 L1058.50 677.00" fill="none" stroke="#0000ff" stroke-width="1.2" shape-rendering="auto" stroke-linejoin="miter"/>
<path d="M1062.20 668.80 L1058.60 675.50 L1066.00 674.80 Z" fill="#0000ff" stroke="#0000ff" stroke-width="0.6" shape-rendering="auto"/>
<rect x="1058" y="677" width="1" height="29" fill="#0000ff" />
<text x="1007" y="644.8" font-family='"Liberation Sans", sans-serif' font-size="16" font-weight="bold" fill="#0000ff" text-anchor="start" textLength="29" lengthAdjust="spacingAndGlyphs" >VT2</text>
<text x="979.2" y="664.8" font-family='"Liberation Sans", sans-serif' font-size="16" font-weight="bold" fill="#0000ff" text-anchor="start" textLength="56.8" lengthAdjust="spacingAndGlyphs" >2N3390</text>
<rect x="1058" y="413" width="1" height="12" fill="#000000" />
<path d="M1058.50 424.30 L1064.60 427.10 L1053.50 432.00 L1064.60 439.20 L1053.50 444.40 L1064.60 450.30 L1053.50 455.40 L1058.50 457.50" fill="none" stroke="#000000" stroke-width="1.2" shape-rendering="auto" stroke-linejoin="miter"/>
<rect x="1058" y="457" width="1" height="13" fill="#000000" />
<rect x="1125" y="413" width="1" height="12" fill="#000000" />
<path d="M1125.50 424.30 L1131.60 427.10 L1120.50 432.00 L1131.60 439.20 L1120.50 444.40 L1131.60 450.30 L1120.50 455.40 L1125.50 457.50" fill="none" stroke="#000000" stroke-width="1.2" shape-rendering="auto" stroke-linejoin="miter"/>
<rect x="1125" y="457" width="1" height="13" fill="#000000" />
<text x="1066.6" y="424.3" font-family='"Liberation Sans", sans-serif' font-size="16" font-weight="bold" fill="#000000" text-anchor="start" textLength="19.5" lengthAdjust="spacingAndGlyphs" >R2</text>
<text x="1066.6" y="447.3" font-family='"Liberation Sans", sans-serif' font-size="16" font-weight="bold" fill="#000000" text-anchor="start" textLength="39.4" lengthAdjust="spacingAndGlyphs" >240Ω</text>
<text x="1134.4" y="424.3" font-family='"Liberation Sans", sans-serif' font-size="16" font-weight="bold" fill="#000000" text-anchor="start" textLength="19.5" lengthAdjust="spacingAndGlyphs" >R3</text>
<text x="1134.4" y="447.3" font-family='"Liberation Sans", sans-serif' font-size="16" font-weight="bold" fill="#000000" text-anchor="start" textLength="43.6" lengthAdjust="spacingAndGlyphs" >5.1kΩ</text>
<rect x="1193" y="492" width="1" height="24" fill="#000000" />
<rect x="1181" y="515" width="26" height="3" fill="#000000" />
<rect x="1180" y="516" width="1" height="1" fill="#000000" />
<rect x="1207" y="516" width="1" height="1" fill="#000000" />
<path d="M1181.0 529 Q1183.5 524.5 1188.5 524.3 L1198.5 524.3 Q1203.5 524.5 1206.0 529" fill="none" stroke="#000" stroke-width="2.8" shape-rendering="auto"/>
<rect x="1193" y="525" width="1" height="23" fill="#000000" />
<rect x="1181" y="508" width="8" height="1" fill="#000000" />
<rect x="1184" y="504" width="1" height="8" fill="#000000" />
<text x="1207.6" y="502.7" font-family='"Liberation Sans", sans-serif' font-size="16" font-weight="bold" fill="#000000" text-anchor="start" textLength="19" lengthAdjust="spacingAndGlyphs" >C2</text>
<text x="1208" y="523.3" font-family='"Liberation Sans", sans-serif' font-size="16" font-weight="bold" fill="#000000" text-anchor="start" textLength="36" lengthAdjust="spacingAndGlyphs" >10µF</text>
<rect x="1271" y="626" width="1" height="12" fill="#000000" />
<path d="M1271.50 637.30 L1277.60 640.10 L1266.50 645.00 L1277.60 652.20 L1266.50 657.40 L1277.60 663.30 L1266.50 668.40 L1271.50 670.50" fill="none" stroke="#000000" stroke-width="1.2" shape-rendering="auto" stroke-linejoin="miter"/>
<rect x="1271" y="670" width="1" height="13" fill="#000000" />
<text x="1280.8" y="638.2" font-family='"Liberation Sans", sans-serif' font-size="16" font-weight="bold" fill="#000000" text-anchor="start" textLength="47.2" lengthAdjust="spacingAndGlyphs" >Rнагр</text>
<text x="1280.8" y="660.9" font-family='"Liberation Sans", sans-serif' font-size="16" font-weight="bold" fill="#000000" text-anchor="start" textLength="20.2" lengthAdjust="spacingAndGlyphs" >6Ω</text>
<rect x="956.5" y="176.5" width="68" height="101" fill="none" stroke="#0000ff" stroke-dasharray="17.5 6.5" stroke-dashoffset="20.5"/>
<rect x="968.5" y="206.5" width="44" height="48" fill="#c0dcc0" stroke="#000" stroke-width="1.3"/>
<rect x="971.5" y="210.5" width="37" height="18" fill="#c0c0c0" stroke="#fff"/>
<path d="M974.9 227.6 Q990 215 1004.8 228.2" fill="none" stroke="#000" shape-rendering="auto"/>
<path d="M990.3 229.8 L997.7 215.1" stroke="#000" shape-rendering="auto"/>
<rect x="975" y="236" width="9" height="1" fill="#000000" />
<rect x="979" y="232" width="1" height="9" fill="#000000" />
<rect x="998" y="236" width="8" height="1" fill="#000000" />
<circle cx="979.5" cy="247.5" r="3.3" fill="#a0a0a0" stroke="#000" shape-rendering="auto"/>
<circle cx="1001.5" cy="247.5" r="3.3" fill="#a0a0a0" stroke="#000" shape-rendering="auto"/>
<rect x="979" y="250" width="1" height="17" fill="#000000" />
<rect x="1001" y="250" width="1" height="17" fill="#000000" />
<text x="970" y="196.8" font-family='"Liberation Mono", monospace' font-size="13" font-weight="bold" fill="#000000" text-anchor="start" textLength="37.5" lengthAdjust="spacingAndGlyphs" >XMM1</text>
<rect x="312" y="377" width="5" height="3" fill="#ff0000" />
<rect x="313" y="376" width="3" height="5" fill="#ff0000" />
<rect x="380" y="377" width="5" height="3" fill="#ff0000" />
<rect x="381" y="376" width="3" height="5" fill="#ff0000" />
<rect x="436" y="377" width="5" height="3" fill="#ff0000" />
<rect x="437" y="376" width="3" height="5" fill="#ff0000" />
<rect x="672" y="377" width="5" height="3" fill="#ff0000" />
<rect x="673" y="376" width="3" height="5" fill="#ff0000" />
<rect x="1055" y="343" width="5" height="3" fill="#ff0000" />
<rect x="1056" y="342" width="3" height="5" fill="#ff0000" />
<rect x="1055" y="377" width="5" height="3" fill="#ff0000" />
<rect x="1056" y="376" width="3" height="5" fill="#ff0000" />
<rect x="1122" y="377" width="5" height="3" fill="#ff0000" />
<rect x="1123" y="376" width="3" height="5" fill="#ff0000" />
<rect x="1190" y="377" width="5" height="3" fill="#ff0000" />
<rect x="1191" y="376" width="3" height="5" fill="#ff0000" />
<rect x="312" y="534" width="5" height="3" fill="#ff0000" />
<rect x="313" y="533" width="3" height="5" fill="#ff0000" />
<rect x="312" y="635" width="5" height="3" fill="#ff0000" />
<rect x="313" y="634" width="3" height="5" fill="#ff0000" />
<rect x="886" y="489" width="5" height="3" fill="#ff0000" />
<rect x="887" y="488" width="3" height="5" fill="#ff0000" />
<rect x="1055" y="489" width="5" height="3" fill="#ff0000" />
<rect x="1056" y="488" width="3" height="5" fill="#ff0000" />
<rect x="1122" y="534" width="5" height="3" fill="#ff0000" />
<rect x="1123" y="533" width="3" height="5" fill="#ff0000" />
<rect x="886" y="669" width="5" height="3" fill="#ff0000" />
<rect x="887" y="668" width="3" height="5" fill="#ff0000" />
<rect x="312" y="748" width="5" height="3" fill="#ff0000" />
<rect x="313" y="747" width="3" height="5" fill="#ff0000" />
<rect x="560" y="748" width="5" height="3" fill="#ff0000" />
<rect x="561" y="747" width="3" height="5" fill="#ff0000" />
<rect x="886" y="748" width="5" height="3" fill="#ff0000" />
<rect x="887" y="747" width="3" height="5" fill="#ff0000" />
<rect x="1055" y="748" width="5" height="3" fill="#ff0000" />
<rect x="1056" y="747" width="3" height="5" fill="#ff0000" />
<rect x="1190" y="748" width="5" height="3" fill="#ff0000" />
<rect x="1191" y="747" width="3" height="5" fill="#ff0000" />
<rect x="1072" y="161" width="219" height="205" fill="#d4d0c8" />
<rect x="1072" y="161" width="219" height="1" fill="#d4d0c8" />
<rect x="1072" y="161" width="1" height="205" fill="#d4d0c8" />
<rect x="1073" y="162" width="217" height="1" fill="#ffffff" />
<rect x="1073" y="162" width="1" height="203" fill="#ffffff" />
<rect x="1072" y="365" width="219" height="1" fill="#404040" />
<rect x="1290" y="161" width="1" height="205" fill="#404040" />
<rect x="1073" y="364" width="217" height="1" fill="#808080" />
<rect x="1289" y="162" width="1" height="203" fill="#808080" />
<rect x="1076" y="165" width="211" height="28" fill="url(#agrad)" />
<text x="1079" y="185.8" font-family='"Liberation Sans", sans-serif' font-size="19.5" font-weight="bold" fill="#ffffff" text-anchor="start" textLength="170.6" lengthAdjust="spacingAndGlyphs" >Мультиметр-XMM1</text>
<rect x="1259" y="168" width="26" height="23" fill="#d4d0c8" />
<rect x="1259" y="168" width="26" height="1" fill="#ffffff" />
<rect x="1259" y="168" width="1" height="23" fill="#ffffff" />
<rect x="1259" y="190" width="26" height="1" fill="#404040" />
<rect x="1284" y="168" width="1" height="23" fill="#404040" />
<rect x="1260" y="189" width="24" height="1" fill="#808080" />
<rect x="1283" y="169" width="1" height="21" fill="#808080" />
<path d="M1265 173 L1279 186 M1279 173 L1265 186" stroke="#000" stroke-width="2" shape-rendering="auto"/>
<rect x="1077" y="195" width="210" height="38" fill="#d4d0c8" />
<rect x="1077" y="195" width="210" height="1" fill="#ffffff" />
<rect x="1077" y="195" width="1" height="38" fill="#ffffff" />
<rect x="1077" y="232" width="210" height="1" fill="#404040" />
<rect x="1286" y="195" width="1" height="38" fill="#404040" />
<rect x="1078" y="231" width="208" height="1" fill="#808080" />
<rect x="1285" y="196" width="1" height="36" fill="#808080" />
<rect x="1079" y="197" width="206" height="1" fill="#808080" />
<rect x="1079" y="197" width="1" height="34" fill="#808080" />
<rect x="1080" y="198" width="204" height="1" fill="#404040" />
<rect x="1080" y="198" width="1" height="32" fill="#404040" />
<rect x="1079" y="230" width="206" height="1" fill="#ffffff" />
<rect x="1284" y="197" width="1" height="34" fill="#ffffff" />
<rect x="1080" y="229" width="204" height="1" fill="#f4f4f4" />
<rect x="1283" y="198" width="1" height="32" fill="#f4f4f4" />
<rect x="1081" y="199" width="202" height="30" fill="#000000" />
<text x="1181.4" y="214.5" font-family='"Liberation Sans", sans-serif' font-size="15" font-weight="normal" fill="#ffffff" text-anchor="middle" textLength="77" lengthAdjust="spacingAndGlyphs" >40.721 mA</text>
<rect x="1083.5" y="244.5" width="194" height="33" fill="none" stroke="#808080"/>
<rect x="1084.5" y="245.5" width="194" height="33" fill="none" stroke="#ffffff"/>
<rect x="1114.5" y="278.5" width="132" height="29" fill="none" stroke="#808080"/>
<rect x="1115.5" y="279.5" width="132" height="29" fill="none" stroke="#ffffff"/>
<rect x="1097" y="248" width="35" height="26" fill="url(#chk)" />
<rect x="1097" y="248" width="35" height="1" fill="#404040" />
<rect x="1097" y="248" width="1" height="26" fill="#404040" />
<rect x="1098" y="249" width="33" height="1" fill="#808080" />
<rect x="1098" y="249" width="1" height="24" fill="#808080" />
<rect x="1097" y="273" width="35" height="1" fill="#ffffff" />
<rect x="1131" y="248" width="1" height="26" fill="#ffffff" />
<text x="1114.5" y="265" font-family='"Liberation Sans", sans-serif' font-size="13" font-weight="normal" fill="#000" text-anchor="middle" >A</text>
<rect x="1140" y="248" width="35" height="26" fill="#d4d0c8" />
<rect x="1140" y="248" width="35" height="1" fill="#ffffff" />
<rect x="1140" y="248" width="1" height="26" fill="#ffffff" />
<rect x="1140" y="273" width="35" height="1" fill="#404040" />
<rect x="1174" y="248" width="1" height="26" fill="#404040" />
<rect x="1141" y="272" width="33" height="1" fill="#808080" />
<rect x="1173" y="249" width="1" height="24" fill="#808080" />
<text x="1157.5" y="265" font-family='"Liberation Sans", sans-serif' font-size="13" font-weight="normal" fill="#000" text-anchor="middle" >V</text>
<rect x="1184" y="248" width="37" height="26" fill="#d4d0c8" />
<rect x="1184" y="248" width="37" height="1" fill="#ffffff" />
<rect x="1184" y="248" width="1" height="26" fill="#ffffff" />
<rect x="1184" y="273" width="37" height="1" fill="#404040" />
<rect x="1220" y="248" width="1" height="26" fill="#404040" />
<rect x="1185" y="272" width="35" height="1" fill="#808080" />
<rect x="1219" y="249" width="1" height="24" fill="#808080" />
<text x="1202.5" y="265" font-family='"Liberation Sans", sans-serif' font-size="13" font-weight="normal" fill="#000" text-anchor="middle" >Ω</text>
<rect x="1230" y="248" width="36" height="26" fill="#d4d0c8" />
<rect x="1230" y="248" width="36" height="1" fill="#ffffff" />
<rect x="1230" y="248" width="1" height="26" fill="#ffffff" />
<rect x="1230" y="273" width="36" height="1" fill="#404040" />
<rect x="1265" y="248" width="1" height="26" fill="#404040" />
<rect x="1231" y="272" width="34" height="1" fill="#808080" />
<rect x="1264" y="249" width="1" height="24" fill="#808080" />
<text x="1248" y="265" font-family='"Liberation Sans", sans-serif' font-size="13" font-weight="normal" fill="#000" text-anchor="middle" >dB</text>
<rect x="1125" y="284" width="52" height="21" fill="#d4d0c8" />
<rect x="1125" y="284" width="52" height="1" fill="#ffffff" />
<rect x="1125" y="284" width="1" height="21" fill="#ffffff" />
<rect x="1125" y="304" width="52" height="1" fill="#404040" />
<rect x="1176" y="284" width="1" height="21" fill="#404040" />
<rect x="1126" y="303" width="50" height="1" fill="#808080" />
<rect x="1175" y="285" width="1" height="19" fill="#808080" />
<path d="M1140.5 295 Q1145 289.5 1150 293 Q1155.5 298.5 1162 293" fill="none" stroke="#000" stroke-width="1.6" shape-rendering="auto"/>
<rect x="1189" y="284" width="49" height="21" fill="url(#chk)" />
<rect x="1189" y="284" width="49" height="1" fill="#404040" />
<rect x="1189" y="284" width="1" height="21" fill="#404040" />
<rect x="1190" y="285" width="47" height="1" fill="#808080" />
<rect x="1190" y="285" width="1" height="19" fill="#808080" />
<rect x="1189" y="304" width="49" height="1" fill="#ffffff" />
<rect x="1237" y="284" width="1" height="21" fill="#ffffff" />
<rect x="1201" y="293" width="24" height="2" fill="#000000" />
<rect x="1139" y="322" width="87" height="24" fill="#d4d0c8" />
<rect x="1139" y="322" width="87" height="1" fill="#ffffff" />
<rect x="1139" y="322" width="1" height="24" fill="#ffffff" />
<rect x="1139" y="345" width="87" height="1" fill="#404040" />
<rect x="1225" y="322" width="1" height="24" fill="#404040" />
<rect x="1140" y="344" width="85" height="1" fill="#808080" />
<rect x="1224" y="323" width="1" height="22" fill="#808080" />
<text x="1142.5" y="338.8" font-family='"Liberation Sans", sans-serif' font-size="13.5" font-weight="normal" fill="#000" text-anchor="start" textLength="79.5" lengthAdjust="spacingAndGlyphs" >Параметры...</text>
<text x="1092.5" y="330" font-family='"Liberation Sans", sans-serif' font-size="13" font-weight="normal" fill="#000" text-anchor="middle" >+</text>
<text x="1273.8" y="334.5" font-family='"Liberation Sans", sans-serif' font-size="13" font-weight="normal" fill="#000" text-anchor="middle" >−</text>
<circle cx="1092" cy="344.3" r="5.6" fill="#d4d0c8" shape-rendering="auto"/>
<path d="M1095.96 340.34 A5.6 5.6 0 0 0 1088.04 348.26" fill="none" stroke="#505050" stroke-width="1.6" shape-rendering="auto"/>
<path d="M1088.04 348.26 A5.6 5.6 0 0 0 1095.96 340.34" fill="none" stroke="#ffffff" stroke-width="1.6" shape-rendering="auto"/>
<circle cx="1092" cy="344.3" r="2.9" fill="#8c8c8c" shape-rendering="auto"/>
<circle cx="1271.2" cy="345.7" r="5.6" fill="#d4d0c8" shape-rendering="auto"/>
<path d="M1275.16 341.74 A5.6 5.6 0 0 0 1267.24 349.66" fill="none" stroke="#505050" stroke-width="1.6" shape-rendering="auto"/>
<path d="M1267.24 349.66 A5.6 5.6 0 0 0 1275.16 341.74" fill="none" stroke="#ffffff" stroke-width="1.6" shape-rendering="auto"/>
<circle cx="1271.2" cy="345.7" r="2.9" fill="#8c8c8c" shape-rendering="auto"/>
<rect x="1283" y="352" width="2" height="2" fill="#808080" />
<rect x="1282" y="351" width="1" height="1" fill="#ffffff" />
<rect x="1279" y="356" width="2" height="2" fill="#808080" />
<rect x="1278" y="355" width="1" height="1" fill="#ffffff" />
<rect x="1283" y="356" width="2" height="2" fill="#808080" />
<rect x="1282" y="355" width="1" height="1" fill="#ffffff" />
<rect x="1275" y="360" width="2" height="2" fill="#808080" />
<rect x="1274" y="359" width="1" height="1" fill="#ffffff" />
<rect x="1279" y="360" width="2" height="2" fill="#808080" />
<rect x="1278" y="359" width="1" height="1" fill="#ffffff" />
<rect x="1283" y="360" width="2" height="2" fill="#808080" />
<rect x="1282" y="359" width="1" height="1" fill="#ffffff" />
</svg>
</body></html>
